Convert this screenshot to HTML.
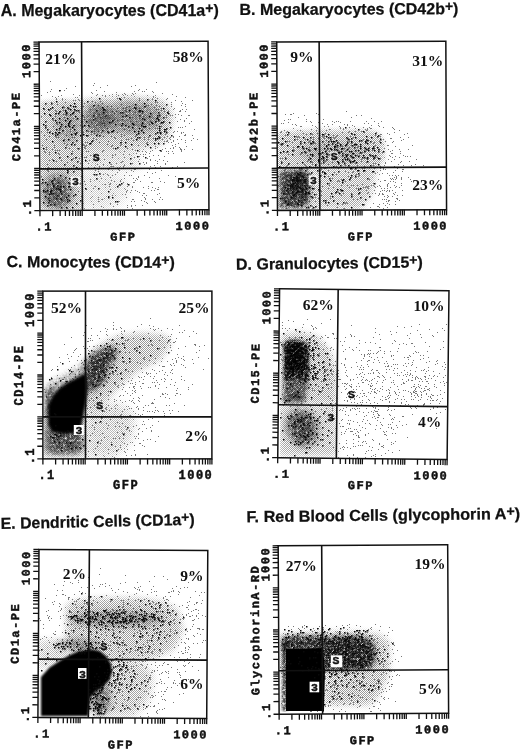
<!DOCTYPE html><html><head><meta charset="utf-8"><style>html,body{margin:0;padding:0;background:#fff;width:520px;height:750px;overflow:hidden}svg{display:block}</style></head><body>
<svg style="will-change:transform" width="520" height="750" viewBox="0 0 520 750">
<defs><pattern id="chk" width="2" height="2" patternUnits="userSpaceOnUse"><rect width="1" height="1" fill="#9a9a9a"/><rect x="1" y="1" width="1" height="1" fill="#9a9a9a"/></pattern><filter id="b1" x="-100%" y="-100%" width="300%" height="300%"><feGaussianBlur stdDeviation="1"/></filter><filter id="mb1_0" x="-100%" y="-100%" width="300%" height="300%"><feGaussianBlur stdDeviation="1" result="b"/><feTurbulence type="fractalNoise" baseFrequency="0.45" numOctaves="2" seed="4" result="t"/><feColorMatrix in="t" type="matrix" values="0 0 0 0 0 0 0 0 0 0 0 0 0 0 0 2.4 0 0 0 -0.35" result="n"/><feComposite in="b" in2="n" operator="arithmetic" k1="1"/></filter><filter id="mb1_1" x="-100%" y="-100%" width="300%" height="300%"><feGaussianBlur stdDeviation="1" result="b"/><feTurbulence type="fractalNoise" baseFrequency="0.45" numOctaves="2" seed="11" result="t"/><feColorMatrix in="t" type="matrix" values="0 0 0 0 0 0 0 0 0 0 0 0 0 0 0 2.4 0 0 0 -0.35" result="n"/><feComposite in="b" in2="n" operator="arithmetic" k1="1"/></filter><filter id="mb1_2" x="-100%" y="-100%" width="300%" height="300%"><feGaussianBlur stdDeviation="1" result="b"/><feTurbulence type="fractalNoise" baseFrequency="0.45" numOctaves="2" seed="18" result="t"/><feColorMatrix in="t" type="matrix" values="0 0 0 0 0 0 0 0 0 0 0 0 0 0 0 2.4 0 0 0 -0.35" result="n"/><feComposite in="b" in2="n" operator="arithmetic" k1="1"/></filter><filter id="b1_5" x="-100%" y="-100%" width="300%" height="300%"><feGaussianBlur stdDeviation="1.5"/></filter><filter id="mb1_5_0" x="-100%" y="-100%" width="300%" height="300%"><feGaussianBlur stdDeviation="1.5" result="b"/><feTurbulence type="fractalNoise" baseFrequency="0.45" numOctaves="2" seed="4" result="t"/><feColorMatrix in="t" type="matrix" values="0 0 0 0 0 0 0 0 0 0 0 0 0 0 0 2.4 0 0 0 -0.35" result="n"/><feComposite in="b" in2="n" operator="arithmetic" k1="1"/></filter><filter id="mb1_5_1" x="-100%" y="-100%" width="300%" height="300%"><feGaussianBlur stdDeviation="1.5" result="b"/><feTurbulence type="fractalNoise" baseFrequency="0.45" numOctaves="2" seed="11" result="t"/><feColorMatrix in="t" type="matrix" values="0 0 0 0 0 0 0 0 0 0 0 0 0 0 0 2.4 0 0 0 -0.35" result="n"/><feComposite in="b" in2="n" operator="arithmetic" k1="1"/></filter><filter id="mb1_5_2" x="-100%" y="-100%" width="300%" height="300%"><feGaussianBlur stdDeviation="1.5" result="b"/><feTurbulence type="fractalNoise" baseFrequency="0.45" numOctaves="2" seed="18" result="t"/><feColorMatrix in="t" type="matrix" values="0 0 0 0 0 0 0 0 0 0 0 0 0 0 0 2.4 0 0 0 -0.35" result="n"/><feComposite in="b" in2="n" operator="arithmetic" k1="1"/></filter><filter id="b2" x="-100%" y="-100%" width="300%" height="300%"><feGaussianBlur stdDeviation="2"/></filter><filter id="mb2_0" x="-100%" y="-100%" width="300%" height="300%"><feGaussianBlur stdDeviation="2" result="b"/><feTurbulence type="fractalNoise" baseFrequency="0.45" numOctaves="2" seed="4" result="t"/><feColorMatrix in="t" type="matrix" values="0 0 0 0 0 0 0 0 0 0 0 0 0 0 0 2.4 0 0 0 -0.35" result="n"/><feComposite in="b" in2="n" operator="arithmetic" k1="1"/></filter><filter id="mb2_1" x="-100%" y="-100%" width="300%" height="300%"><feGaussianBlur stdDeviation="2" result="b"/><feTurbulence type="fractalNoise" baseFrequency="0.45" numOctaves="2" seed="11" result="t"/><feColorMatrix in="t" type="matrix" values="0 0 0 0 0 0 0 0 0 0 0 0 0 0 0 2.4 0 0 0 -0.35" result="n"/><feComposite in="b" in2="n" operator="arithmetic" k1="1"/></filter><filter id="mb2_2" x="-100%" y="-100%" width="300%" height="300%"><feGaussianBlur stdDeviation="2" result="b"/><feTurbulence type="fractalNoise" baseFrequency="0.45" numOctaves="2" seed="18" result="t"/><feColorMatrix in="t" type="matrix" values="0 0 0 0 0 0 0 0 0 0 0 0 0 0 0 2.4 0 0 0 -0.35" result="n"/><feComposite in="b" in2="n" operator="arithmetic" k1="1"/></filter><filter id="b2_5" x="-100%" y="-100%" width="300%" height="300%"><feGaussianBlur stdDeviation="2.5"/></filter><filter id="mb2_5_0" x="-100%" y="-100%" width="300%" height="300%"><feGaussianBlur stdDeviation="2.5" result="b"/><feTurbulence type="fractalNoise" baseFrequency="0.45" numOctaves="2" seed="4" result="t"/><feColorMatrix in="t" type="matrix" values="0 0 0 0 0 0 0 0 0 0 0 0 0 0 0 2.4 0 0 0 -0.35" result="n"/><feComposite in="b" in2="n" operator="arithmetic" k1="1"/></filter><filter id="mb2_5_1" x="-100%" y="-100%" width="300%" height="300%"><feGaussianBlur stdDeviation="2.5" result="b"/><feTurbulence type="fractalNoise" baseFrequency="0.45" numOctaves="2" seed="11" result="t"/><feColorMatrix in="t" type="matrix" values="0 0 0 0 0 0 0 0 0 0 0 0 0 0 0 2.4 0 0 0 -0.35" result="n"/><feComposite in="b" in2="n" operator="arithmetic" k1="1"/></filter><filter id="mb2_5_2" x="-100%" y="-100%" width="300%" height="300%"><feGaussianBlur stdDeviation="2.5" result="b"/><feTurbulence type="fractalNoise" baseFrequency="0.45" numOctaves="2" seed="18" result="t"/><feColorMatrix in="t" type="matrix" values="0 0 0 0 0 0 0 0 0 0 0 0 0 0 0 2.4 0 0 0 -0.35" result="n"/><feComposite in="b" in2="n" operator="arithmetic" k1="1"/></filter><filter id="b3" x="-100%" y="-100%" width="300%" height="300%"><feGaussianBlur stdDeviation="3"/></filter><filter id="mb3_0" x="-100%" y="-100%" width="300%" height="300%"><feGaussianBlur stdDeviation="3" result="b"/><feTurbulence type="fractalNoise" baseFrequency="0.45" numOctaves="2" seed="4" result="t"/><feColorMatrix in="t" type="matrix" values="0 0 0 0 0 0 0 0 0 0 0 0 0 0 0 2.4 0 0 0 -0.35" result="n"/><feComposite in="b" in2="n" operator="arithmetic" k1="1"/></filter><filter id="mb3_1" x="-100%" y="-100%" width="300%" height="300%"><feGaussianBlur stdDeviation="3" result="b"/><feTurbulence type="fractalNoise" baseFrequency="0.45" numOctaves="2" seed="11" result="t"/><feColorMatrix in="t" type="matrix" values="0 0 0 0 0 0 0 0 0 0 0 0 0 0 0 2.4 0 0 0 -0.35" result="n"/><feComposite in="b" in2="n" operator="arithmetic" k1="1"/></filter><filter id="mb3_2" x="-100%" y="-100%" width="300%" height="300%"><feGaussianBlur stdDeviation="3" result="b"/><feTurbulence type="fractalNoise" baseFrequency="0.45" numOctaves="2" seed="18" result="t"/><feColorMatrix in="t" type="matrix" values="0 0 0 0 0 0 0 0 0 0 0 0 0 0 0 2.4 0 0 0 -0.35" result="n"/><feComposite in="b" in2="n" operator="arithmetic" k1="1"/></filter><filter id="b4" x="-100%" y="-100%" width="300%" height="300%"><feGaussianBlur stdDeviation="4"/></filter><filter id="mb4_0" x="-100%" y="-100%" width="300%" height="300%"><feGaussianBlur stdDeviation="4" result="b"/><feTurbulence type="fractalNoise" baseFrequency="0.45" numOctaves="2" seed="4" result="t"/><feColorMatrix in="t" type="matrix" values="0 0 0 0 0 0 0 0 0 0 0 0 0 0 0 2.4 0 0 0 -0.35" result="n"/><feComposite in="b" in2="n" operator="arithmetic" k1="1"/></filter><filter id="mb4_1" x="-100%" y="-100%" width="300%" height="300%"><feGaussianBlur stdDeviation="4" result="b"/><feTurbulence type="fractalNoise" baseFrequency="0.45" numOctaves="2" seed="11" result="t"/><feColorMatrix in="t" type="matrix" values="0 0 0 0 0 0 0 0 0 0 0 0 0 0 0 2.4 0 0 0 -0.35" result="n"/><feComposite in="b" in2="n" operator="arithmetic" k1="1"/></filter><filter id="mb4_2" x="-100%" y="-100%" width="300%" height="300%"><feGaussianBlur stdDeviation="4" result="b"/><feTurbulence type="fractalNoise" baseFrequency="0.45" numOctaves="2" seed="18" result="t"/><feColorMatrix in="t" type="matrix" values="0 0 0 0 0 0 0 0 0 0 0 0 0 0 0 2.4 0 0 0 -0.35" result="n"/><feComposite in="b" in2="n" operator="arithmetic" k1="1"/></filter><filter id="b5" x="-100%" y="-100%" width="300%" height="300%"><feGaussianBlur stdDeviation="5"/></filter><filter id="mb5_0" x="-100%" y="-100%" width="300%" height="300%"><feGaussianBlur stdDeviation="5" result="b"/><feTurbulence type="fractalNoise" baseFrequency="0.45" numOctaves="2" seed="4" result="t"/><feColorMatrix in="t" type="matrix" values="0 0 0 0 0 0 0 0 0 0 0 0 0 0 0 2.4 0 0 0 -0.35" result="n"/><feComposite in="b" in2="n" operator="arithmetic" k1="1"/></filter><filter id="mb5_1" x="-100%" y="-100%" width="300%" height="300%"><feGaussianBlur stdDeviation="5" result="b"/><feTurbulence type="fractalNoise" baseFrequency="0.45" numOctaves="2" seed="11" result="t"/><feColorMatrix in="t" type="matrix" values="0 0 0 0 0 0 0 0 0 0 0 0 0 0 0 2.4 0 0 0 -0.35" result="n"/><feComposite in="b" in2="n" operator="arithmetic" k1="1"/></filter><filter id="mb5_2" x="-100%" y="-100%" width="300%" height="300%"><feGaussianBlur stdDeviation="5" result="b"/><feTurbulence type="fractalNoise" baseFrequency="0.45" numOctaves="2" seed="18" result="t"/><feColorMatrix in="t" type="matrix" values="0 0 0 0 0 0 0 0 0 0 0 0 0 0 0 2.4 0 0 0 -0.35" result="n"/><feComposite in="b" in2="n" operator="arithmetic" k1="1"/></filter><filter id="b6" x="-100%" y="-100%" width="300%" height="300%"><feGaussianBlur stdDeviation="6"/></filter><filter id="mb6_0" x="-100%" y="-100%" width="300%" height="300%"><feGaussianBlur stdDeviation="6" result="b"/><feTurbulence type="fractalNoise" baseFrequency="0.45" numOctaves="2" seed="4" result="t"/><feColorMatrix in="t" type="matrix" values="0 0 0 0 0 0 0 0 0 0 0 0 0 0 0 2.4 0 0 0 -0.35" result="n"/><feComposite in="b" in2="n" operator="arithmetic" k1="1"/></filter><filter id="mb6_1" x="-100%" y="-100%" width="300%" height="300%"><feGaussianBlur stdDeviation="6" result="b"/><feTurbulence type="fractalNoise" baseFrequency="0.45" numOctaves="2" seed="11" result="t"/><feColorMatrix in="t" type="matrix" values="0 0 0 0 0 0 0 0 0 0 0 0 0 0 0 2.4 0 0 0 -0.35" result="n"/><feComposite in="b" in2="n" operator="arithmetic" k1="1"/></filter><filter id="mb6_2" x="-100%" y="-100%" width="300%" height="300%"><feGaussianBlur stdDeviation="6" result="b"/><feTurbulence type="fractalNoise" baseFrequency="0.45" numOctaves="2" seed="18" result="t"/><feColorMatrix in="t" type="matrix" values="0 0 0 0 0 0 0 0 0 0 0 0 0 0 0 2.4 0 0 0 -0.35" result="n"/><feComposite in="b" in2="n" operator="arithmetic" k1="1"/></filter><filter id="b8" x="-100%" y="-100%" width="300%" height="300%"><feGaussianBlur stdDeviation="8"/></filter><filter id="mb8_0" x="-100%" y="-100%" width="300%" height="300%"><feGaussianBlur stdDeviation="8" result="b"/><feTurbulence type="fractalNoise" baseFrequency="0.45" numOctaves="2" seed="4" result="t"/><feColorMatrix in="t" type="matrix" values="0 0 0 0 0 0 0 0 0 0 0 0 0 0 0 2.4 0 0 0 -0.35" result="n"/><feComposite in="b" in2="n" operator="arithmetic" k1="1"/></filter><filter id="mb8_1" x="-100%" y="-100%" width="300%" height="300%"><feGaussianBlur stdDeviation="8" result="b"/><feTurbulence type="fractalNoise" baseFrequency="0.45" numOctaves="2" seed="11" result="t"/><feColorMatrix in="t" type="matrix" values="0 0 0 0 0 0 0 0 0 0 0 0 0 0 0 2.4 0 0 0 -0.35" result="n"/><feComposite in="b" in2="n" operator="arithmetic" k1="1"/></filter><filter id="mb8_2" x="-100%" y="-100%" width="300%" height="300%"><feGaussianBlur stdDeviation="8" result="b"/><feTurbulence type="fractalNoise" baseFrequency="0.45" numOctaves="2" seed="18" result="t"/><feColorMatrix in="t" type="matrix" values="0 0 0 0 0 0 0 0 0 0 0 0 0 0 0 2.4 0 0 0 -0.35" result="n"/><feComposite in="b" in2="n" operator="arithmetic" k1="1"/></filter><filter id="b10" x="-100%" y="-100%" width="300%" height="300%"><feGaussianBlur stdDeviation="10"/></filter><filter id="mb10_0" x="-100%" y="-100%" width="300%" height="300%"><feGaussianBlur stdDeviation="10" result="b"/><feTurbulence type="fractalNoise" baseFrequency="0.45" numOctaves="2" seed="4" result="t"/><feColorMatrix in="t" type="matrix" values="0 0 0 0 0 0 0 0 0 0 0 0 0 0 0 2.4 0 0 0 -0.35" result="n"/><feComposite in="b" in2="n" operator="arithmetic" k1="1"/></filter><filter id="mb10_1" x="-100%" y="-100%" width="300%" height="300%"><feGaussianBlur stdDeviation="10" result="b"/><feTurbulence type="fractalNoise" baseFrequency="0.45" numOctaves="2" seed="11" result="t"/><feColorMatrix in="t" type="matrix" values="0 0 0 0 0 0 0 0 0 0 0 0 0 0 0 2.4 0 0 0 -0.35" result="n"/><feComposite in="b" in2="n" operator="arithmetic" k1="1"/></filter><filter id="mb10_2" x="-100%" y="-100%" width="300%" height="300%"><feGaussianBlur stdDeviation="10" result="b"/><feTurbulence type="fractalNoise" baseFrequency="0.45" numOctaves="2" seed="18" result="t"/><feColorMatrix in="t" type="matrix" values="0 0 0 0 0 0 0 0 0 0 0 0 0 0 0 2.4 0 0 0 -0.35" result="n"/><feComposite in="b" in2="n" operator="arithmetic" k1="1"/></filter><filter id="b12" x="-100%" y="-100%" width="300%" height="300%"><feGaussianBlur stdDeviation="12"/></filter><filter id="mb12_0" x="-100%" y="-100%" width="300%" height="300%"><feGaussianBlur stdDeviation="12" result="b"/><feTurbulence type="fractalNoise" baseFrequency="0.45" numOctaves="2" seed="4" result="t"/><feColorMatrix in="t" type="matrix" values="0 0 0 0 0 0 0 0 0 0 0 0 0 0 0 2.4 0 0 0 -0.35" result="n"/><feComposite in="b" in2="n" operator="arithmetic" k1="1"/></filter><filter id="mb12_1" x="-100%" y="-100%" width="300%" height="300%"><feGaussianBlur stdDeviation="12" result="b"/><feTurbulence type="fractalNoise" baseFrequency="0.45" numOctaves="2" seed="11" result="t"/><feColorMatrix in="t" type="matrix" values="0 0 0 0 0 0 0 0 0 0 0 0 0 0 0 2.4 0 0 0 -0.35" result="n"/><feComposite in="b" in2="n" operator="arithmetic" k1="1"/></filter><filter id="mb12_2" x="-100%" y="-100%" width="300%" height="300%"><feGaussianBlur stdDeviation="12" result="b"/><feTurbulence type="fractalNoise" baseFrequency="0.45" numOctaves="2" seed="18" result="t"/><feColorMatrix in="t" type="matrix" values="0 0 0 0 0 0 0 0 0 0 0 0 0 0 0 2.4 0 0 0 -0.35" result="n"/><feComposite in="b" in2="n" operator="arithmetic" k1="1"/></filter></defs>
<rect width="520" height="750" fill="#fff"/>
<g transform="translate(40 42)"><clipPath id="cpA"><rect x="1" y="1" width="167" height="166"/></clipPath><g clip-path="url(#cpA)"><path d="M10 39.5h1m105 1h1m-63 1h1m-2 2h1m13 0h1m27 0h1m-61 1h1m55 0h1m-32 1h1m-35 1h1m-16 1h1m87 0h1m6 0h1m-87 1h1m3 0h1m31 0h1m41 0h1m-89 1h1m53 0h1m29 0h1m7 0h1m1 0h1m7 0h1m-106 1h1m43 0h1m24 0h1m36 0h1m-62 1h1m31 0h1m7 0h1m2 0h1m26 0h1m-90 1h1m23 0h1m14 0h1m3 0h1m5 0h1m2 0h1m7 0h1m38 0h1m-132 1h1m19 0h1m17 0h1m16 0h1m5 0h1m2 0h1m3 0h1m8 0h1m4 0h1m3 0h1m3 0h1m15 0h1m7 0h1m-104 1h1m5 0h1m46 0h1m6 0h1m3 0h1m17 0h1m18 0h1m22 0h1m-122 1h1m19 0h1m1 0h1m13 0h1m29 0h1m2 0h1m28 0h1m1 0h1m29 0h1m-130 1h1m5 0h1m18 0h1m35 0h1m2 0h1m7 0h1m10 0h1m12 0h1m4 0h1m9 0h1m-112 1h1m5 0h1m2 0h1m12 0h1m20 0h1m39 0h1m12 0h1m13 0h1m-105 1h1m10 0h1m1 0h1m3 0h1m1 0h2m23 0h1m3 0h1m28 0h1m16 0h1m18 0h1m16 0h1m-137 1h1m34 0h2m7 0h1m38 0h1m41 0h1m-131 1h1m2 0h1m10 0h1m29 0h1m10 0h1m15 0h1m23 0h1m8 0h1m1 0h1m4 0h1m8 0h1m-99 1h1m10 0h1m4 0h1m12 0h1m26 0h1m52 0h1m-131 1h1m4 0h1m20 0h1m42 0h1m10 0h1m7 0h1m10 0h1m4 0h1m14 0h1m13 0h1m-115 1h1m15 0h1m1 0h1m4 0h1m3 0h1m32 0h1m11 0h1m2 0h1m1 0h1m7 0h1m24 0h1m-119 1h1m4 0h1m4 0h1m1 0h1m6 0h2m23 0h2m1 0h2m17 0h2m14 0h2m12 0h1m2 0h1m8 0h1m13 0h1m-123 1h2m12 0h1m21 0h1m13 0h1m12 0h1m9 0h1m17 0h1m-87 1h1m12 0h1m21 0h1m13 0h2m4 0h1m1 0h1m6 0h2m1 0h1m2 0h2m21 0h1m12 0h1m-131 1h1m10 0h1m5 0h1m28 0h1m13 0h1m21 0h2m9 0h1m18 0h1m1 0h1m14 0h1m8 0h1m3 0h1m-139 1h2m5 0h1m7 0h1m11 0h1m12 0h1m14 0h1m1 0h1m19 0h1m12 0h1m13 0h1m8 0h1m6 0h1m11 0h1m-125 1h1m3 0h1m13 0h1m37 0h1m3 0h1m9 0h1m11 0h1m16 0h1m8 0h1m3 0h1m10 0h2m4 0h1m-127 1h1m16 0h1m1 0h2m28 0h1m23 0h1m2 0h1m10 0h1m9 0h1m-104 1h1m2 0h1m32 0h1m1 0h1m3 0h1m18 0h2m1 0h1m24 0h1m24 0h1m-112 1h1m5 0h2m1 0h1m20 0h1m5 0h1m3 0h1m2 0h1m22 0h1m2 0h1m7 0h1m18 0h1m6 0h1m15 0h1m2 0h1m-139 1h1m25 0h1m39 0h1m6 0h1m13 0h1m7 0h1m17 0h1m3 0h1m8 0h1m3 0h1m1 0h1m8 0h1m6 0h2m-135 1h1m10 0h1m31 0h1m6 0h1m6 0h1m3 0h1m3 0h1m4 0h1m2 0h1m14 0h1m-83 1h1m2 0h1m19 0h1m15 0h1m22 0h1m5 0h1m2 0h1m28 0h1m4 0h2m7 0h1m-136 1h1m17 0h1m14 0h1m21 0h1m12 0h1m30 0h1m17 0h1m28 0h1m-132 1h1m9 0h1m9 0h2m6 0h2m4 0h1m1 0h1m22 0h1m6 0h2m57 0h1m-128 1h1m49 0h1m9 0h1m3 0h1m28 0h1m7 0h1m11 0h1m17 0h1m-108 1h1m23 0h1m1 0h1m8 0h1m17 0h1m5 0h1m13 0h1m5 0h2m5 0h1m13 0h1m6 0h1m6 0h1m-101 1h1m16 0h1m2 0h1m14 0h1m5 0h1m22 0h1m8 0h1m-124 1h1m25 0h1m17 0h1m11 0h1m4 0h1m1 0h1m55 0h1m4 0h1m23 0h1m-133 1h1m3 0h1m2 0h1m50 0h1m25 0h1m7 0h1m2 0h1m1 0h1m-82 1h2m5 0h1m15 0h1m7 0h1m24 0h1m26 0h1m4 0h1m-109 1h1m12 0h1m22 0h1m8 0h1m29 0h1m17 0h1m3 0h1m10 0h1m23 0h1m-63 1h1m15 0h1m5 0h1m32 0h1m1 0h1m1 0h1m-125 1h2m18 0h1m28 0h1m41 0h1m2 0h1m2 0h1m1 0h1m2 0h1m3 0h1m-116 1h1m20 0h2m3 0h1m18 0h1m29 0h1m16 0h2m26 0h1m24 0h1m-143 1h1m5 0h2m3 0h1m6 0h1m31 0h1m26 0h1m11 0h1m12 0h1m-106 1h2m18 0h2m4 0h1m7 0h1m4 0h1m5 0h1m3 0h1m39 0h1m27 0h1m7 0h1m2 0h1m-131 1h1m35 0h1m17 0h1m15 0h1m41 0h1m13 0h1m7 0h1m1 0h1m-128 1h1m17 0h1m10 0h1m8 0h1m4 0h1m5 0h1m15 0h1m27 0h1m1 0h1m29 0h1m-127 1h1m4 0h1m3 0h1m9 0h1m3 0h1m12 0h1m5 0h1m12 0h1m1 0h1m8 0h1m43 0h1m19 0h1m-142 1h1m18 0h1m2 0h1m18 0h1m17 0h1m3 0h1m16 0h1m59 0h2m6 0h1m-144 1h2m27 0h1m19 0h1m4 0h1m7 0h1m4 0h1m4 0h1m13 0h1m10 0h1m9 0h1m10 0h1m5 0h1m5 0h1m-124 1h1m1 0h1m13 0h1m1 0h1m39 0h1m29 0h1m3 0h1m6 0h1m8 0h1m5 0h1m2 0h1m-126 1h1m7 0h1m5 0h1m9 0h1m20 0h1m21 0h1m15 0h1m21 0h1m5 0h1m6 0h1m2 0h1m23 0h1m-154 1h1m5 0h1m17 0h1m3 0h1m27 0h1m29 0h1m1 0h1m15 0h2m2 0h1m13 0h1m7 0h1m6 0h1m3 0h1m15 0h1m-77 1h1m11 0h1m21 0h1m11 0h1m5 0h1m11 0h1m5 0h1m-129 1h1m23 0h1m17 0h1m2 0h1m6 0h1m48 0h1m1 0h2m5 0h1m-132 1h1m15 0h1m11 0h1m14 0h1m1 0h1m11 0h1m21 0h1m8 0h1m16 0h1m10 0h1m9 0h1m2 0h1m13 0h1m-122 1h1m22 0h1m58 0h1m7 0h1m23 0h1m-127 1h1m5 0h1m8 0h1m39 0h1m4 0h1m8 0h1m26 0h1m26 0h1m-134 1h1m8 0h1m2 0h1m4 0h1m6 0h1m6 0h1m8 0h1m1 0h1m1 0h1m6 0h1m5 0h1m1 0h1m10 0h1m7 0h1m17 0h1m33 0h1m-88 1h1m22 0h1m2 0h1m12 0h1m1 0h1m18 0h1m9 0h1m19 0h1m10 0h1m-146 1h1m4 0h1m7 0h1m26 0h1m2 0h1m4 0h1m67 0h1m15 0h1m5 0h1m-111 1h1m7 0h1m6 0h2m27 0h1m13 0h1m27 0h1m9 0h1m4 0h1m2 0h1m6 0h1m-141 1h1m5 0h2m1 0h1m2 0h1m79 0h1m6 0h1m3 0h1m18 0h1m17 0h2m2 0h1m7 0h1m-138 1h3m1 0h1m16 0h1m26 0h2m30 0h1m16 0h1m6 0h1m21 0h1m-138 1h1m8 0h1m18 0h1m13 0h1m1 0h1m13 0h1m16 0h1m4 0h1m14 0h1m2 0h1m2 0h1m4 0h1m10 0h1m4 0h1m1 0h1m3 0h1m8 0h1m-137 1h1m3 0h1m10 0h1m15 0h1m25 0h1m17 0h1m25 0h1m-104 1h1m14 0h1m20 0h1m13 0h1m39 0h1m2 0h1m12 0h1m18 0h1m4 0h1m-125 1h1m9 0h1m21 0h1m30 0h1m2 0h1m7 0h1m5 0h1m10 0h1m2 0h1m1 0h1m-81 1h1m21 0h1m2 0h2m3 0h1m7 0h1m3 0h1m4 0h2m1 0h1m15 0h1m21 0h1m4 0h1m-103 1h1m3 0h1m20 0h1m4 0h1m11 0h1m39 0h2m3 0h1m5 0h1m14 0h1m-89 1h1m7 0h3m11 0h1m13 0h1m11 0h1m9 0h1m-62 1h1m5 0h1m17 0h1m20 0h1m28 0h1m-96 1h1m32 0h1m18 0h1m34 0h1m10 0h1m8 0h1m-111 1h1m2 0h1m8 0h1m20 0h1m6 0h1m10 0h1m49 0h1m4 0h1m7 0h1m-108 1h1m24 0h1m5 0h1m34 0h2m14 0h1m18 0h1m9 0h1m-101 1h1m2 0h1m21 0h1m7 0h1m8 0h1m10 0h2m21 0h1m2 0h1m37 0h1m-120 1h1m7 0h1m1 0h1m1 0h1m2 0h1m7 0h1m6 0h1m20 0h1m15 0h1m13 0h1m10 0h1m7 0h1m-124 1h1m4 0h1m4 0h1m9 0h1m34 0h1m5 0h1m6 0h2m12 0h1m19 0h1m20 0h1m-89 1h1m13 0h1m3 0h1m7 0h1m3 0h1m16 0h1m29 0h1m-56 1h1m10 0h4m6 0h1m2 0h1m26 0h1m9 0h1m16 0h1m-131 1h2m39 0h1m5 0h1m4 0h1m9 0h1m7 0h1m1 0h1m3 0h1m31 0h1m16 0h1m-119 1h1m67 0h1m3 0h1m18 0h1m-91 1h1m5 0h1m9 0h1m6 0h1m19 0h1m9 0h1m9 0h1m15 0h2m13 0h1m-69 1h1m13 0h1m16 0h1m6 0h1m11 0h1m29 0h1m-121 1h1m6 0h1m19 0h1m29 0h1m34 0h1m-40 1h1m22 0h1m8 0h1m20 0h1m7 0h1m-51 1h1m46 0h1m-60 1h1m6 0h1m2 0h1m3 0h1m7 0h1m-8 1h1m3 0h1m11 0h1m4 0h1m1 0h1m12 0h1m23 0h1m-109 1h1m20 0h1m18 0h1m37 0h1m36 0h1m-66 1h1m27 0h1m10 0h1m-49 1h1m22 0h1m8 0h1m2 0h1m22 0h1m-70 1h1m6 0h1m7 0h1m15 0h1m15 0h1m-62 1h1m17 0h1m16 0h1m8 0h1m14 0h1m-54 1h1m1 0h1m5 0h1m8 0h1m14 0h1m5 0h1m19 0h1m19 0h1m-53 1h1m14 0h1m9 0h2m16 0h2m11 0h1m-55 1h1m16 0h1m-43 1h1m16 0h1m1 0h2m3 0h2m5 0h1m10 0h1m-37 1h1m26 0h1m1 0h1m-27 1h2m13 0h1m17 0h1m4 0h1m15 0h1m-44 1h1m9 0h1m16 0h1m10 0h1m8 0h1m5 0h1m-66 1h1m4 0h1m25 0h1m23 0h1m6 0h1m-70 1h1m23 0h1m14 0h1m31 0h2m-32 1h1m3 0h1m3 0h1m15 0h1m2 0h1m-77 1h1m12 0h1m34 0h1m10 0h1m-12 1h1m3 0h1m8 0h1m-39 1h1m11 0h1m29 0h2m14 0h1m-38 1h1m2 0h1m31 0h1m-46 1h1m2 0h1m26 0h1m3 0h1m-66 1h1m10 0h1m13 0h1m-16 1h1m6 0h1m27 0h1m17 0h1m15 0h1m-71 1h1m13 0h1m40 0h1m-48 1h1m2 0h2m29 0h2m11 0h1m6 0h1m6 0h1m2 0h1m-95 1h1m72 0h1m-51 1h1m6 0h2m19 0h1m11 0h1m2 0h1m9 0h1m9 0h1m-9 1h1m8 0h1m-73 1h1m26 0h1m36 0h1m-55 1h1m16 0h1m6 0h1m9 1h1m3 0h1m3 0h1m6 0h1m-42 1h1m11 0h1m17 0h1m-39 1h1m9 0h1m23 0h1m-61 1h1m16 0h1m47 0h1m-14 1h1m22 0h1m26 0h1" stroke="#777" stroke-width="1" fill="none"/><mask id="mkA" maskUnits="userSpaceOnUse" x="0" y="0" width="169" height="168"><g filter="url(#b2)"><polygon points="0,60 20,58 42,58 42,168 0,168" fill="#fff" fill-opacity="1"/></g><g filter="url(#b3)"><polygon points="42,58 80,55 110,56 122,58 130,65 133,78 129,95 120,103 100,107 70,109 42,111" fill="#fff" fill-opacity="1"/></g><g filter="url(#b5)"><polygon points="42,105 95,106 100,127 42,127" fill="#fff" fill-opacity="0.6"/></g><g filter="url(#b6)"><ellipse cx="58" cy="148" rx="30" ry="20" fill="#fff" fill-opacity="0.5"/></g></mask><rect width="169" height="168" fill="url(#chk)" mask="url(#mkA)"/><g filter="url(#mb4_0)"><ellipse cx="58" cy="77" rx="14" ry="15" fill="#000" fill-opacity="0.5"/></g><g filter="url(#mb5_1)"><ellipse cx="92" cy="76" rx="30" ry="15" fill="#000" fill-opacity="0.38"/></g><g filter="url(#mb4_2)"><ellipse cx="28" cy="84" rx="13" ry="17" fill="#000" fill-opacity="0.25"/></g><g filter="url(#mb4_0)"><ellipse cx="17" cy="150" rx="14" ry="17" fill="#000" fill-opacity="0.6"/></g><path d="M19 48.75h1.5m38.5 8h1.5m18.5 0h1.5m-0.5 1h1.5m25.5 0h1.5m6.5 1h1.5m-100.5 1h1.5m29.5 0h1.5m-43.5 2h1.5m4.5 0h1.5m21.5 0h1.5m68.5 0h1.5m-10.5 1h1.5m29.5 0h1.5m-97.5 1h1.5m21.5 0h1.5m-21.5 1h1.5m0.5 0h1.5m67.5 0h1.5m-93.5 1h1.5m8.5 0h1.5m3.5 0h1.5m33.5 0h1.5m30.5 0h1.5m-92.5 1h1.5m5.5 0h1.5m16.5 0h1.5m65.5 0h1.5m26.5 0h1.5m-116.5 1h1.5m20.5 0h1.5m2.5 0h1.5m27.5 0h2.5m-40.5 1h1.5m9.5 0h1.5m0.5 0h1.5m16.5 0h1.5m31.5 0h1.5m8.5 0h2.5m-82.5 1h1.5m4.5 0h1.5m72.5 0h1.5m1.5 0h1.5m-77.5 1h1.5m5.5 0h1.5m28.5 0h1.5m15.5 0h1.5m0.5 0h1.5m34.5 0h1.5m7.5 0h1.5m-124.5 1h1.5m9.5 0h1.5m1.5 0h1.5m6.5 0h1.5m4.5 0h1.5m76.5 0h1.5m16.5 0h1.5m-120.5 1h1.5m19.5 0h1.5m-21.5 1h1.5m30.5 0h1.5m9.5 0h1.5m31.5 0h1.5m11.5 0h1.5m16.5 0h1.5m0.5 0h1.5m-120.5 1h1.5m33.5 0h1.5m45.5 0h1.5m25.5 0h1.5m-21.5 1h1.5m26.5 0h1.5m4.5 0h1.5m-112.5 1h1.5m5.5 0h1.5m6.5 0h1.5m8.5 0h1.5m63.5 0h1.5m12.5 0h1.5m-64.5 1h1.5m49.5 0h1.5m12.5 0h1.5m-104.5 1h1.5m8.5 0h1.5m3.5 0h1.5m40.5 0h1.5m44.5 0h1.5m-114.5 1h1.5m22.5 0h1.5m10.5 0h1.5m3.5 0h1.5m67.5 0h1.5m6.5 0h1.5m-108.5 1h1.5m1.5 0h1.5m8.5 0h1.5m38.5 0h1.5m31.5 0h1.5m7.5 0h1.5m8.5 0h2.5m5.5 0h1.5m-102.5 1h1.5m52.5 0h1.5m8.5 0h1.5m8.5 0h1.5m8.5 0h1.5m-110.5 1h1.5m16.5 0h1.5m5.5 0h1.5m45.5 0h1.5m16.5 0h1.5m-89.5 1h1.5m21.5 0h1.5m3.5 0h1.5m9.5 0h1.5m2.5 0h1.5m31.5 0h1.5m2.5 0h1.5m14.5 0h1.5m-82.5 1h1.5m3.5 0h1.5m2.5 0h1.5m11.5 0h1.5m44.5 0h1.5m13.5 0h3.5m12.5 0h1.5m-115.5 1h1.5m25.5 0h1.5m58.5 0h1.5m36.5 0h1.5m-112.5 1h1.5m78.5 0h1.5m18.5 0h1.5m5.5 0h1.5m-120.5 1h1.5m7.5 0h1.5m16.5 0h1.5m88.5 0h2.5m-104.5 1h1.5m22.5 0h1.5m14.5 0h1.5m9.5 0h1.5m26.5 0h1.5m16.5 0h1.5m-120.5 1h1.5m49.5 0h1.5m14.5 0h1.5m2.5 0h2.5m20.5 0h1.5m2.5 0h1.5m24.5 0h1.5m-116.5 1h1.5m4.5 0h1.5m1.5 0h2.5m15.5 0h1.5m30.5 0h1.5m33.5 0h1.5m12.5 0h1.5m1.5 0h1.5m4.5 0h1.5m-115.5 1h1.5m21.5 0h1.5m61.5 0h1.5m15.5 0h1.5m3.5 0h1.5m-104.5 1h1.5m12.5 0h1.5m2.5 0h1.5m6.5 0h1.5m51.5 0h1.5m-82.5 1h1.5m23.5 0h1.5m4.5 0h2.5m7.5 0h1.5m1.5 0h1.5m48.5 0h1.5m20.5 0h1.5m-14.5 1h1.5m-22.5 1h1.5m0.5 0h1.5m18.5 0h1.5m-5.5 1h1.5m0.5 0h1.5m-90.5 1h1.5m66.5 0h1.5m17.5 0h1.5m-93.5 1h1.5m11.5 0h1.5m14.5 0h1.5m-41.5 1h1.5m37.5 0h1.5m-20.5 1h1.5m46.5 0h1.5m3.5 0h1.5m-37.5 1h2.5m62.5 0h1.5m2.5 0h1.5m3.5 0h1.5m-93.5 1h1.5m1.5 0h1.5m6.5 0h1.5m47.5 0h1.5m14.5 0h1.5m-23.5 2h1.5m-61.5 1h1.5m50.5 0h1.5m31.5 0h1.5m-108.5 1h1.5m33.5 0h1.5m35.5 0h1.5m20.5 2h1.5m21.5 0h1.5m-106.5 2h1.5m14.5 1h1.5m-5.5 3h1.5m68.5 0h1.5m-79.5 1h1.5m14.5 0h1.5m68.5 0h1.5m-16.5 1h1.5m-60.5 1h1.5m-19.5 1h1.5m30.5 0h1.5m-9.5 1h1.5m30.5 1h1.5m19.5 1h1.5m7.5 0h1.5m-76.5 1h1.5m7.5 1h1.5m1.5 2h1.5m-9.5 1h1.5m-22.5 1h1.5m18.5 1h1.5m4.5 1h1.5m-7.5 1h1.5m30.5 1h1.5m-6.5 1h1.5m0.5 0h1.5m-37.5 1h1.5m-21.5 1h1.5m23.5 1h1.5m-12.5 1h1.5m13.5 0h1.5m25.5 0h1.5m-55.5 1h1.5m8.5 1h1.5m-2.5 1h1.5m-10.5 1h1.5m1.5 0h1.5m11.5 0h1.5m8.5 0h1.5m3.5 0h1.5m-34.5 1h1.5m10.5 0h1.5m15.5 0h1.5m2.5 0h1.5m4.5 0h1.5m40.5 0h1.5m-75.5 1h1.5m70.5 0h1.5m7.5 0h1.5m-76.5 1h1.5m2.5 0h1.5m-5.5 1h1.5m5.5 0h1.5m1.5 0h1.5m3.5 0h2.5m46.5 0h1.5m-62.5 2h1.5m0.5 0h1.5m25.5 0h1.5m11.5 0h1.5m-40.5 1h2.5m8.5 0h1.5m-28.5 1h1.5m2.5 0h1.5m2.5 0h1.5m-9.5 1h1.5m0.5 0h1.5m3.5 0h1.5m8.5 0h1.5m46.5 0h1.5m-59.5 1h1.5m-0.5 1h1.5m0.5 0h1.5m6.5 0h1.5m-13.5 1h1.5m24.5 0h1.5m-19.5 1h1.5m9.5 0h1.5m3.5 0h1.5m-29.5 1h1.5m61.5 0h1.5m-43.5 1h1.5m40.5 0h1.5m2.5 0h1.5m-65.5 1h1.5m6.5 0h1.5m2.5 0h1.5m-0.5 1h1.5m4.5 0h1.5m-19.5 1h1.5m18.5 0h1.5m9.5 0h1.5m-14.5 1h1.5m46.5 0h1.5m0.5 0h1.5m-75.5 1h1.5m3.5 0h1.5m26.5 1h1.5m-27.5 1h1.5m2.5 0h1.5m-8.5 1h1.5m12.5 2h1.5m3.5 0h1.5m4.5 0h1.5m-10.5 2h1.5m7.5 0h1.5m1.5 0h1.5" stroke="#0a0a0a" stroke-width="1.5" fill="none"/></g></g>
<g transform="translate(277 42)"><clipPath id="cpB"><rect x="1" y="1" width="167" height="166"/></clipPath><g clip-path="url(#cpB)"><path d="M69 69.5h1m-54 2h1m22 0h1m-32 1h1m4 0h2m26 0h1m-15 1h1m51 0h1m4 0h1m-64 2h1m20 0h1m31 0h1m19 1h1m-84 1h1m1 0h1m15 0h1m16 0h1m-40 1h1m21 1h1m3 0h1m21 0h1m3 0h1m1 0h1m11 0h1m15 0h1m7 0h1m6 0h1m-94 1h1m22 0h1m6 0h1m15 0h1m5 0h1m-60 1h1m1 0h1m38 0h1m41 0h1m3 0h1m9 0h1m-87 1h1m2 0h1m23 0h1m7 0h1m4 0h1m11 0h1m2 0h1m-52 1h1m15 0h1m34 0h1m4 0h1m18 0h1m6 0h1m-79 1h2m13 0h1m8 0h1m3 0h1m10 0h1m14 0h1m24 0h1m-64 1h1m23 0h1m8 0h1m13 0h1m5 0h1m13 0h1m8 0h1m-100 1h1m23 0h1m22 0h1m2 0h1m11 0h1m11 0h1m2 0h2m21 0h1m-83 1h1m17 0h2m12 0h1m21 0h1m1 0h1m26 0h1m-111 1h1m12 0h1m2 0h1m15 0h1m9 0h1m39 0h2m31 0h1m-119 1h1m5 0h1m14 0h1m13 0h1m5 0h1m26 0h1m4 0h2m5 0h2m-83 1h2m4 0h1m26 0h1m28 0h1m5 0h1m15 0h1m11 0h1m17 0h1m-118 1h1m24 0h2m6 0h1m6 0h1m7 0h1m30 0h1m5 0h1m24 0h1m19 0h1m-123 1h1m11 0h1m8 0h1m5 0h1m39 0h1m10 0h1m9 0h1m6 0h2m7 0h1m14 0h1m-120 1h1m4 0h1m3 0h1m11 0h1m26 0h1m3 0h1m16 0h1m20 0h1m-80 1h1m1 0h1m2 0h1m20 0h3m11 0h1m13 0h1m14 0h1m14 0h1m-84 1h3m13 0h1m6 0h1m2 0h1m9 0h1m1 0h1m16 0h2m46 0h1m7 0h1m-127 1h1m20 0h1m14 0h1m5 0h1m9 0h1m2 0h1m42 0h1m9 0h2m-110 1h1m3 0h1m10 0h1m4 0h1m2 0h2m6 0h1m30 0h1m4 0h1m13 0h1m19 0h1m19 0h1m-97 1h1m2 0h1m15 0h1m39 0h1m1 0h1m10 0h1m21 0h1m-115 1h1m1 0h1m8 0h1m10 0h1m3 0h1m17 0h3m13 0h1m1 0h1m9 0h2m18 0h1m5 0h1m7 0h1m-102 1h1m6 0h1m8 0h1m1 0h1m16 0h1m7 0h1m11 0h1m13 0h1m4 0h1m4 0h1m2 0h1m17 0h1m-112 1h1m32 0h2m2 0h2m17 0h1m1 0h1m7 0h2m6 0h1m10 0h1m5 0h2m-94 1h1m43 0h1m7 0h2m6 0h1m42 0h1m-34 1h2m23 0h2m10 0h2m23 0h1m-115 1h1m43 0h1m15 0h1m36 0h1m-110 1h1m6 0h1m3 0h1m11 0h1m8 0h1m18 0h1m11 0h2m6 0h2m9 0h2m3 0h1m-93 1h1m21 0h1m11 0h2m27 0h1m3 0h1m25 0h1m9 0h1m-92 1h1m22 0h1m24 0h1m2 0h1m7 0h1m1 0h1m5 0h1m1 0h1m4 0h1m11 0h1m8 0h1m10 0h1m8 0h1m-115 1h1m31 0h1m19 0h1m10 0h1m6 0h1m2 0h1m1 0h1m2 0h1m8 0h1m10 0h1m-107 1h1m6 0h1m35 0h1m6 0h1m2 0h1m5 0h1m14 0h1m4 0h1m24 0h1m9 0h1m-121 1h1m5 0h2m19 0h1m33 0h1m1 0h1m16 0h1m1 0h1m19 0h1m-65 1h1m20 0h1m16 0h1m2 0h1m1 0h2m17 0h1m1 0h1m8 0h2m7 0h1m-113 1h1m10 0h2m24 0h3m5 0h1m-57 1h1m6 0h1m22 0h1m16 0h1m32 0h1m1 0h1m29 0h1m13 0h1m-101 1h1m8 0h1m19 0h1m4 0h1m11 0h1m3 0h1m9 0h1m26 0h1m4 0h1m9 0h1m1 0h1m2 0h1m-126 1h1m23 0h1m13 0h1m3 0h2m31 0h1m6 0h2m8 0h1m6 0h1m7 0h1m6 0h1m-120 1h1m1 0h1m4 0h1m11 0h1m17 0h1m45 0h1m2 0h2m9 0h1m-96 1h1m1 0h1m31 0h1m7 0h1m8 0h1m8 0h1m3 0h1m1 0h2m8 0h1m2 0h1m5 0h2m19 0h1m5 0h1m21 0h1m-128 1h1m42 0h1m30 0h1m1 0h1m-85 1h1m25 0h1m17 0h1m17 0h1m17 0h1m8 0h1m20 0h1m9 0h1m7 0h1m-98 1h1m19 0h1m8 0h1m2 0h1m21 0h1m12 0h1m5 0h1m14 0h1m-120 1h1m15 0h1m21 0h1m1 0h1m20 0h1m3 0h1m3 0h1m4 0h1m17 0h1m1 0h2m8 0h1m-105 1h1m6 0h2m3 0h1m10 0h2m6 0h1m2 0h1m12 0h1m69 0h1m16 0h1m-139 1h1m9 0h1m4 0h1m1 0h1m10 0h1m39 0h2m10 0h1m6 0h1m8 0h1m10 0h1m18 0h1m7 0h1m11 0h1m-138 1h1m19 0h1m10 0h1m18 0h1m20 0h1m6 0h1m15 0h1m13 0h1m-112 1h1m5 0h1m7 0h1m3 0h1m20 0h1m1 0h1m12 0h1m14 0h1m1 0h1m5 0h1m39 0h2m1 0h2m-111 1h1m29 0h1m13 0h1m23 0h1m1 0h1m4 0h1m4 0h1m5 0h1m2 0h1m13 0h1m-113 1h1m4 0h1m16 0h1m13 0h1m32 0h1m7 0h1m20 0h1m1 0h1m16 0h2m-120 1h1m9 0h1m5 0h1m14 0h1m4 0h1m7 0h1m16 0h1m11 0h1m11 0h1m10 0h1m14 0h1m-84 1h1m5 0h1m9 0h1m16 0h1m7 0h1m9 0h1m2 0h1m35 0h1m-117 1h1m4 0h2m3 0h1m2 0h1m22 0h1m6 0h1m3 0h2m13 0h1m3 0h2m17 0h1m5 0h1m15 0h1m-102 1h1m2 0h1m8 0h1m4 0h1m1 0h1m4 0h1m47 0h1m10 0h1m6 0h1m4 0h1m-108 1h1m6 0h1m5 0h1m4 0h1m11 0h1m25 0h1m19 0h2m21 0h1m-76 1h1m1 0h1m44 0h1m3 0h1m3 0h1m29 0h1m2 0h1m2 0h1m2 0h1m-121 1h1m1 0h1m26 0h1m3 0h2m15 0h1m19 0h1m9 0h1m37 0h1m-111 1h1m7 0h1m4 0h1m15 0h1m8 0h1m27 0h1m19 0h1m21 0h1m1 0h1m4 0h1m6 0h1m-127 1h1m31 0h1m1 0h1m15 0h1m17 0h1m16 0h1m22 0h1m1 0h1m3 0h1m4 0h1m-116 1h1m24 0h1m29 0h1m2 0h1m11 0h1m12 0h1m8 0h1m12 0h1m1 0h1m1 0h1m5 0h1m8 0h1m-117 1h1m26 0h1m5 0h1m10 0h1m30 0h1m14 0h2m-98 1h1m16 0h1m3 0h1m27 0h1m1 0h1m5 0h1m34 0h1m9 0h1m2 0h1m17 0h1m-109 1h1m29 0h1m3 0h1m23 0h1m1 0h1m31 0h1m-116 1h1m9 0h1m4 0h1m33 0h1m2 0h1m40 0h1m14 0h1m12 0h1m-106 1h1m2 0h1m27 0h1m9 0h1m11 0h1m12 0h1m24 0h1m-108 1h1m4 0h1m2 0h1m7 0h1m10 0h1m4 0h1m16 0h1m11 0h2m4 0h1m3 0h1m1 0h1m3 0h1m13 0h1m1 0h1m5 0h1m7 0h1m6 0h1m6 0h1m-80 1h2m42 0h1m1 0h2m4 0h1m2 0h1m2 0h1m6 0h1m8 0h1m-115 1h2m21 0h1m27 0h1m15 0h2m12 0h1m1 0h1m1 0h1m7 0h1m14 0h1m4 0h1m3 0h1m-115 1h1m4 0h2m9 0h1m26 0h1m27 0h1m1 0h1m8 0h2m12 0h1m2 0h1m2 0h1m-51 1h1m-36 1h1m17 0h1m20 0h1m1 0h1m5 0h1m16 0h1m7 0h1m7 0h1m1 0h1m2 0h1m1 0h1m2 0h1m9 0h1m-121 1h1m5 0h1m11 0h1m8 0h1m8 0h1m2 0h1m18 0h1m1 0h1m11 0h1m7 0h1m17 0h1m5 0h1m2 0h1m-103 1h2m3 0h1m6 0h1m6 0h1m5 0h2m1 0h1m22 0h1m29 0h1m26 0h1m-115 1h1m9 0h1m3 0h1m18 0h1m28 0h1m7 0h1m15 0h1m4 0h1m2 0h1m3 0h1m2 0h1m10 0h1m-89 1h1m10 0h1m8 0h1m43 0h1m9 0h1m2 0h2m10 0h1m-108 1h1m4 0h1m5 0h1m22 0h1m19 0h1m2 0h1m11 0h1m3 0h1m17 0h1m8 0h1m9 0h1m4 0h1m-118 1h1m23 0h2m16 0h1m2 0h1m18 0h1m3 0h1m30 0h1m3 0h1m3 0h1m-113 1h1m21 0h1m2 0h1m9 0h1m28 0h1m42 0h1m-106 1h1m11 0h1m14 0h1m8 0h1m11 0h1m65 0h2m-91 1h1m18 0h1m11 0h1m14 0h1m3 0h2m6 0h1m16 0h1m1 0h1m1 0h1m10 0h1m-112 1h1m22 0h1m15 0h1m62 0h2m9 0h1m-94 1h1m2 0h1m5 0h1m3 0h1m13 0h1m12 0h1m39 0h1m1 0h1m6 0h1m-101 1h1m4 0h1m45 0h1m-65 1h1m4 0h1m31 0h1m25 0h1m1 0h1m25 0h1m9 0h1m3 0h1m-81 1h1m11 0h1m22 0h1m2 0h1m33 0h1m9 0h1m5 0h1m-115 1h1m9 0h1m18 0h1m16 0h1m26 0h1m30 0h1m-106 1h1m13 0h1m10 0h1m2 0h1m3 0h1m64 0h2m-85 1h1m41 0h2m32 0h1m8 0h1m7 0h1m-102 1h1m25 0h1m30 0h2m38 0h1m-101 1h1m29 0h1m33 0h1" stroke="#777" stroke-width="1" fill="none"/><mask id="mkB" maskUnits="userSpaceOnUse" x="0" y="0" width="169" height="168"><g filter="url(#b2_5)"><polygon points="0,91 20,89 45,88 80,88 100,90 107,100 107,118 100,126 0,126" fill="#fff" fill-opacity="1"/></g><g filter="url(#b3)"><polygon points="0,126 100,126 95,150 85,167 0,167" fill="#fff" fill-opacity="0.9"/></g></mask><rect width="169" height="168" fill="url(#chk)" mask="url(#mkB)"/><g filter="url(#mb2_5_0)"><polygon points="3,129 30,129 33,140 32,160 26,166 3,166" fill="#000" fill-opacity="0.75"/></g><g filter="url(#mb3_1)"><ellipse cx="22" cy="142" rx="10" ry="13" fill="#000" fill-opacity="0.5"/></g><g filter="url(#mb5_2)"><ellipse cx="55" cy="110" rx="35" ry="10" fill="#000" fill-opacity="0.18"/></g><path d="M68 85.75h1.5m11.5 2h1.5m3.5 2h1.5m-76.5 1h1.5m20.5 1h1.5m39.5 0h1.5m22.5 0h1.5m-89.5 1h1.5m33.5 0h2.5m3.5 0h1.5m24.5 0h1.5m22.5 1h1.5m-85.5 1h1.5m30.5 0h1.5m38.5 0h1.5m9.5 0h1.5m-75.5 1h1.5m5.5 0h1.5m16.5 0h1.5m0.5 0h1.5m14.5 0h1.5m7.5 0h1.5m14.5 0h1.5m-90.5 1h1.5m63.5 0h1.5m2.5 0h1.5m-58.5 1h1.5m11.5 0h1.5m21.5 0h1.5m16.5 0h1.5m16.5 0h1.5m12.5 0h1.5m-45.5 1h1.5m21.5 0h1.5m0.5 0h1.5m4.5 0h1.5m-83.5 1h1.5m13.5 0h1.5m10.5 0h1.5m8.5 0h1.5m4.5 0h1.5m1.5 0h1.5m0.5 0h2.5m15.5 0h1.5m12.5 0h1.5m3.5 0h1.5m-93.5 1h1.5m24.5 0h1.5m7.5 0h1.5m22.5 0h1.5m8.5 0h1.5m2.5 0h1.5m12.5 0h1.5m13.5 0h1.5m-99.5 1h1.5m16.5 0h1.5m8.5 0h2.5m19.5 0h1.5m33.5 0h1.5m-87.5 1h1.5m45.5 0h1.5m5.5 0h1.5m3.5 0h1.5m4.5 0h1.5m6.5 0h3.5m2.5 0h1.5m-74.5 1h1.5m37.5 0h1.5m9.5 0h1.5m1.5 0h1.5m3.5 0h1.5m5.5 0h1.5m-56.5 1h2.5m2.5 0h1.5m22.5 0h1.5m6.5 0h2.5m23.5 0h1.5m11.5 0h1.5m-72.5 1h1.5m30.5 0h1.5m18.5 0h1.5m8.5 0h1.5m11.5 0h1.5m-75.5 1h1.5m1.5 0h1.5m6.5 0h2.5m7.5 0h1.5m1.5 0h1.5m1.5 0h1.5m9.5 0h2.5m16.5 0h1.5m3.5 0h1.5m1.5 0h1.5m2.5 0h2.5m-66.5 1h1.5m5.5 0h1.5m14.5 0h1.5m1.5 0h1.5m0.5 0h1.5m9.5 0h1.5m17.5 0h1.5m10.5 0h1.5m-87.5 1h1.5m15.5 0h1.5m26.5 0h1.5m16.5 0h1.5m1.5 0h1.5m8.5 0h1.5m4.5 0h1.5m-92.5 1h1.5m2.5 0h1.5m15.5 0h1.5m19.5 0h1.5m14.5 0h1.5m6.5 0h1.5m0.5 0h1.5m11.5 0h1.5m12.5 0h1.5m3.5 0h1.5m-104.5 1h1.5m19.5 0h1.5m2.5 0h1.5m15.5 0h1.5m14.5 0h2.5m19.5 0h1.5m-43.5 1h1.5m0.5 0h1.5m4.5 0h1.5m14.5 0h1.5m8.5 0h2.5m-62.5 1h1.5m16.5 0h1.5m0.5 0h1.5m13.5 0h1.5m0.5 0h1.5m14.5 0h1.5m0.5 0h1.5m20.5 0h1.5m-58.5 1h1.5m28.5 0h1.5m2.5 0h1.5m2.5 0h1.5m3.5 0h1.5m6.5 0h1.5m5.5 0h1.5m0.5 0h1.5m1.5 0h1.5m-54.5 1h1.5m2.5 0h1.5m5.5 0h2.5m10.5 0h1.5m3.5 0h1.5m5.5 0h1.5m13.5 0h1.5m-51.5 1h1.5m7.5 0h1.5m0.5 0h1.5m8.5 0h1.5m6.5 0h2.5m7.5 0h1.5m0.5 0h1.5m1.5 0h1.5m5.5 0h1.5m-90.5 1h1.5m23.5 0h1.5m9.5 0h1.5m0.5 0h1.5m10.5 0h1.5m10.5 0h1.5m18.5 0h1.5m4.5 0h1.5m3.5 0h2.5m-72.5 1h1.5m8.5 0h1.5m6.5 0h1.5m14.5 0h1.5m1.5 0h1.5m0.5 0h1.5m-30.5 1h1.5m3.5 0h1.5m24.5 0h1.5m3.5 0h1.5m-45.5 1h1.5m6.5 0h1.5m17.5 0h1.5m3.5 0h1.5m6.5 0h1.5m0.5 0h2.5m12.5 0h1.5m-87.5 1h1.5m19.5 0h1.5m19.5 0h1.5m13.5 0h1.5m10.5 0h1.5m4.5 0h1.5m-69.5 1h1.5m48.5 0h1.5m4.5 0h1.5m-30.5 1h1.5m61.5 0h1.5m-64.5 1h1.5m23.5 0h1.5m6.5 0h1.5m20.5 0h1.5m-92.5 1h1.5m28.5 0h1.5m22.5 0h1.5m-28.5 1h1.5m12.5 0h1.5m3.5 0h1.5m-27.5 1h1.5m0.5 0h1.5m47.5 0h2.5m2.5 0h1.5m-51.5 2h1.5m10.5 0h1.5m38.5 0h2.5m3.5 0h2.5m-43.5 1h1.5m14.5 0h1.5m32.5 0h2.5m-74.5 1h1.5m9.5 0h1.5m11.5 0h1.5m-28.5 1h1.5m25.5 0h2.5m31.5 0h1.5m-61.5 1h2.5m6.5 0h1.5m23.5 0h1.5m-13.5 1h1.5m29.5 0h1.5m-56.5 1h1.5m4.5 0h1.5m15.5 0h1.5m3.5 0h1.5m29.5 0h1.5m-63.5 1h1.5m2.5 0h1.5m4.5 0h1.5m45.5 0h1.5m-55.5 1h1.5m31.5 0h1.5m36.5 0h1.5m-76.5 1h2.5m2.5 0h1.5m5.5 0h2.5m36.5 0h1.5m4.5 0h1.5m-58.5 1h1.5m2.5 0h1.5m0.5 0h1.5m0.5 0h1.5m28.5 0h1.5m10.5 0h1.5m-51.5 1h1.5m3.5 0h1.5m5.5 0h2.5m5.5 0h1.5m5.5 0h1.5m-25.5 1h1.5m45.5 0h1.5m-50.5 1h1.5m32.5 0h1.5m45.5 0h1.5m-88.5 1h1.5m2.5 0h1.5m0.5 0h1.5m-17.5 1h1.5m9.5 0h1.5m0.5 0h1.5m0.5 0h1.5m1.5 0h1.5m7.5 0h1.5m-15.5 1h1.5m0.5 0h1.5m3.5 0h1.5m-13.5 1h1.5m12.5 0h1.5m8.5 0h1.5m-23.5 1h1.5m4.5 0h1.5m1.5 0h1.5m2.5 0h1.5m4.5 0h1.5m4.5 0h2.5m45.5 0h1.5m-59.5 1h1.5m14.5 0h1.5m17.5 0h1.5m1.5 0h1.5m16.5 0h1.5m-73.5 1h1.5m53.5 0h2.5m-51.5 1h1.5m3.5 0h2.5m2.5 0h1.5m1.5 0h1.5m29.5 0h1.5m-41.5 1h1.5m8.5 0h1.5m0.5 0h1.5m25.5 0h1.5m22.5 0h1.5m-77.5 1h1.5m20.5 0h1.5m1.5 0h2.5m20.5 0h1.5m6.5 0h1.5m17.5 0h1.5m-65.5 1h1.5m9.5 0h1.5m7.5 0h1.5m35.5 0h1.5m-59.5 1h2.5m15.5 1h1.5m19.5 0h1.5m17.5 0h1.5m16.5 0h1.5m-79.5 1h1.5m9.5 0h1.5m8.5 0h1.5m46.5 0h1.5m-81.5 1h1.5m22.5 1h1.5m59.5 0h1.5m-68.5 1h1.5m23.5 0h1.5m0.5 0h1.5m6.5 0h1.5m-49.5 1h1.5m14.5 1h1.5m22.5 0h1.5m1.5 0h1.5m13.5 0h1.5m-56.5 1h1.5m7.5 0h1.5m38.5 0h1.5m-51.5 1h1.5m9.5 0h1.5m62.5 0h2.5m-63.5 1h1.5m7.5 0h1.5m3.5 1h1.5m-10.5 1h1.5m0.5 0h1.5m3.5 0h1.5m36.5 0h1.5m-51.5 2h1.5" stroke="#0a0a0a" stroke-width="1.5" fill="none"/></g></g>
<g transform="translate(43 291)"><clipPath id="cpC"><rect x="1" y="1" width="167" height="166"/></clipPath><g clip-path="url(#cpC)"><path d="M107 27.5h1m-38 4h1m27 2h1m-56 1h1m26 0h1m35 0h1m29 0h1m-43 1h1m15 0h1m-34 1h1m-30 1h1m13 0h1m7 0h1m7 0h1m28 0h1m7 0h1m8 0h1m-61 1h1m5 0h1m2 0h1m36 0h1m1 0h1m16 0h1m-49 1h1m29 0h1m6 0h1m22 0h1m-85 1h1m5 0h1m14 0h1m2 0h1m9 0h1m58 0h1m-110 1h1m48 0h1m45 0h1m2 0h1m-62 1h1m26 0h1m47 0h1m-91 1h1m15 0h1m48 0h1m-89 1h1m7 0h1m5 0h1m9 0h1m9 0h1m42 0h1m-19 1h1m25 0h1m1 0h1m18 0h1m-119 1h1m87 0h1m2 0h1m-75 1h1m1 0h1m8 0h1m18 0h1m14 0h1m15 0h1m16 0h1m9 0h1m-70 1h1m1 0h1m7 0h1m10 0h1m8 0h1m2 0h1m28 0h2m-81 1h1m1 0h1m18 0h1m2 0h1m10 0h1m1 0h1m31 0h1m-73 1h2m32 0h1m25 0h1m27 0h1m-68 1h1m58 0h1m2 0h1m2 0h2m-62 1h1m10 0h2m41 0h1m-104 1h1m45 0h1m7 0h2m31 0h1m42 0h2m-99 1h1m6 0h1m5 0h1m13 0h1m23 0h2m2 0h1m17 0h1m24 0h1m8 0h1m-122 1h1m5 0h1m3 0h2m47 0h1m9 0h1m32 0h1m13 0h1m-115 1h1m24 0h1m12 0h1m12 0h1m27 0h1m5 0h1m-95 1h1m7 0h1m2 0h1m28 0h1m20 0h1m2 0h1m18 0h1m18 0h1m-104 1h1m34 0h1m4 0h1m9 0h1m25 0h1m5 0h1m-84 1h1m13 0h1m17 0h1m19 0h1m44 0h1m27 0h1m-111 1h1m3 0h2m18 0h1m11 0h1m-53 1h1m20 0h1m13 0h1m2 0h1m13 0h1m3 0h1m36 0h1m29 0h1m-108 1h1m15 0h1m11 0h1m-51 1h1m12 0h1m21 0h1m74 0h1m-88 1h1m14 0h1m2 0h1m48 0h1m-87 1h1m6 0h1m29 0h1m4 0h1m30 0h1m9 0h1m28 0h1m-125 1h1m31 0h1m14 0h1m7 0h1m29 0h1m33 0h1m19 0h1m-131 1h1m22 0h1m51 0h1m11 0h1m6 0h1m12 0h1m5 0h1m26 0h1m-102 1h1m5 0h1m30 0h1m4 0h1m22 0h1m10 0h1m8 0h1m-116 1h1m3 0h1m15 0h1m10 0h1m40 0h1m26 0h1m7 0h1m-116 1h1m52 0h1m20 0h1m17 0h1m5 0h1m8 0h1m-117 1h1m21 0h1m5 0h1m5 0h1m13 0h1m25 0h1m1 0h2m16 0h1m21 0h1m-96 1h1m44 0h1m2 0h1m10 0h1m12 0h1m1 0h1m17 0h1m19 0h1m-111 1h1m24 0h1m4 0h1m56 0h1m10 0h1m-108 1h1m21 0h1m1 0h1m1 0h2m1 0h1m10 0h1m32 0h1m11 0h1m11 0h1m2 0h1m8 0h1m-127 1h1m32 0h1m2 0h1m26 0h1m11 0h1m29 0h3m-94 1h1m12 0h1m100 0h1m-93 1h1m16 0h1m7 0h1m3 0h1m18 0h1m-90 1h1m15 0h1m1 0h1m7 0h1m14 0h1m2 0h1m55 0h1m19 0h1m30 0h1m-153 1h1m46 0h1m33 0h1m21 0h1m7 0h1m8 0h1m-101 1h1m1 0h1m5 0h1m27 0h1m15 0h1m3 0h2m3 0h1m26 0h1m-47 1h1m7 0h1m2 0h1m17 0h1m3 0h1m18 0h1m4 0h1m-101 1h1m33 0h1m7 0h1m33 0h1m1 0h1m1 0h1m5 0h1m15 0h1m-104 1h1m5 0h1m3 0h1m30 0h1m2 0h1m3 0h1m12 0h1m16 0h1m16 0h1m-108 1h1m47 0h1m61 0h1m-93 1h1m62 0h1m5 0h1m5 0h1m3 0h1m26 0h1m-131 1h1m12 0h1m10 0h1m18 0h1m3 0h1m5 0h1m24 0h1m9 0h1m1 0h1m-83 1h1m12 0h1m4 0h1m4 0h1m31 0h1m3 0h1m5 0h1m7 0h1m20 0h1m10 0h1m-103 1h2m9 0h1m12 0h1m15 0h1m4 0h1m35 0h1m17 0h1m3 0h1m5 0h1m9 0h1m-76 1h1m3 0h1m20 0h1m24 0h1m27 0h1m-125 1h1m4 0h1m1 0h1m2 0h1m35 0h1m21 0h1m10 0h1m24 0h1m-93 1h1m29 0h1m4 0h1m27 0h1m16 0h1m1 0h1m2 0h1m17 0h1m-111 1h1m9 0h2m22 0h2m21 0h1m7 0h1m1 0h1m9 0h2m-94 1h1m20 0h1m22 0h1m4 0h1m3 0h1m2 0h1m8 0h1m7 0h2m10 0h1m23 0h1m10 0h1m21 0h1m-127 1h2m29 0h2m5 0h1m13 0h1m2 0h1m33 0h1m18 0h1m-99 1h1m40 0h1m15 0h2m5 0h1m14 0h1m-105 1h1m6 0h1m2 0h1m13 0h1m8 0h1m6 0h1m26 0h1m4 0h1m5 0h1m3 0h1m14 0h1m1 0h1m15 0h1m21 0h1m-139 1h1m15 0h1m7 0h1m12 0h2m11 0h1m5 0h1m27 0h1m6 0h1m16 0h1m18 0h1m-134 1h1m28 0h1m5 0h1m23 0h1m18 0h1m65 0h1m-130 1h1m72 0h1m2 0h1m40 0h1m-116 1h2m7 0h1m22 0h1m14 0h1m16 0h1m8 0h1m-90 1h1m21 0h1m3 0h1m3 0h1m1 0h1m13 0h1m43 0h1m-80 1h1m26 0h1m9 0h1m5 0h1m27 0h1m4 0h1m29 0h1m2 0h1m10 0h2m-91 1h1m18 0h1m55 0h2m3 0h1m12 0h1m-124 1h1m11 0h1m1 0h1m3 0h1m24 0h1m7 0h1m11 0h1m2 0h1m6 0h1m11 0h1m32 0h1m-130 1h1m18 0h1m53 0h1m40 0h1m-115 1h1m19 0h1m3 0h1m6 0h1m6 0h1m4 0h1m48 0h1m26 0h1m-91 1h1m15 0h1m41 0h1m5 0h1m29 0h1m-103 1h2m1 0h1m1 0h1m35 0h1m5 0h1m39 0h1m-102 1h1m4 0h1m22 0h1m1 0h1m5 0h1m3 0h1m7 0h1m14 0h1m3 0h1m8 0h1m2 0h1m5 0h1m-25 1h1m10 0h1m5 0h1m7 0h1m-79 1h1m12 0h1m13 0h1m33 0h1m10 0h1m18 0h1m-83 1h1m12 0h1m15 0h1m34 0h1m16 0h3m20 0h1m-113 1h1m43 0h1m9 0h1m-49 1h1m6 0h2m1 0h1m7 0h1m7 0h1m13 0h1m6 0h1m1 0h1m27 0h1m2 0h1m17 0h1m2 0h1m14 0h1m-99 1h1m27 0h1m11 0h1m1 0h1m8 0h1m-65 1h1m1 0h1m14 0h1m15 0h1m29 0h1m6 0h1m11 0h1m-69 1h1m17 0h1m5 0h1m3 0h1m13 0h1m1 0h1m6 0h1m-54 1h1m20 0h1m10 0h1m6 0h1m2 0h1m10 0h1m-73 1h1m29 0h1m4 0h1m7 0h1m33 0h1m11 0h1m1 0h1m11 0h1m2 0h1m-126 1h1m51 0h1m2 0h1m1 0h1m10 0h1m6 0h1m10 0h1m13 0h1m1 0h1m2 0h1m5 0h1m4 0h1m14 0h1m-88 1h1m14 0h1m47 0h1m-60 1h1m39 0h1m28 0h1m5 0h1m-92 1h1m1 0h1m5 0h1m14 0h1m11 0h1m6 0h1m16 0h1m3 0h1m-23 1h1m8 0h2m9 0h1m23 0h1m-91 1h1m35 0h1m-6 1h1m44 0h1m-59 1h1m3 0h1m24 0h1m30 0h1m-62 1h1m1 0h1m7 0h1m8 0h1m14 0h1m1 0h1m5 0h1m14 0h1m-63 2h1m56 0h1m14 0h1m-74 1h1m13 0h1m17 0h1m-17 1h1m4 0h1m8 0h1m3 0h1m2 0h1m19 1h1m1 0h1m-53 1h1m15 0h1m27 0h1m15 0h1m-67 1h1m28 0h1m3 0h1m5 0h1m7 0h1m-45 1h1m1 0h1m2 0h1m8 0h1m17 0h1m28 0h1m-44 1h1m31 0h1m6 0h1m-53 1h1m26 0h1m4 0h2m10 0h1m-39 1h1m28 0h1m21 0h1m-55 1h1m23 0h1m7 0h1m1 0h1m10 0h1m8 0h1m-58 1h1m22 0h1m4 0h1m-31 1h1m9 0h2m18 0h3m13 0h1m-59 1h1m19 0h1m29 0h1m7 0h1m-60 1h1m7 0h1m2 0h1m4 0h1m3 0h1m6 1h1m1 0h1m7 0h1m1 0h1m1 0h1m13 0h1m1 0h1m21 0h1m-55 1h1m14 0h1m-7 1h1m1 0h1m3 0h1m3 0h1m11 0h1m2 0h1m-38 1h1m5 0h1m39 0h1m2 0h1m-50 1h1m41 0h1m-46 1h1m22 0h1m33 0h1m-45 1h1m4 0h1m5 0h1m7 0h1m1 0h1m-56 1h1m22 0h1m23 0h1m14 0h2m-14 1h1m-8 1h1m13 0h1m7 0h1m-46 1h1m17 0h1m10 0h1m17 0h1m-40 1h1m14 0h1m-35 1h1m8 0h1m28 0h1m-32 1h1m14 0h1m9 0h1m2 0h1m5 0h1m-44 1h1m13 0h1m35 0h1m-47 1h1m4 0h1m9 0h1m9 0h1m10 0h1m-31 1h1m30 0h1m-18 1h1m-23 1h1m29 0h1m18 0h1m11 0h1m-45 1h1m22 0h1m4 0h1m3 0h1m-48 1h1m15 0h1m7 0h1m1 1h1m-6 1h1" stroke="#777" stroke-width="1" fill="none"/><mask id="mkC" maskUnits="userSpaceOnUse" x="0" y="0" width="169" height="168"><g filter="url(#b3)"><polygon points="42,75 48,62 60,52 75,45 100,42 122,44 128,52 118,68 95,80 80,92 65,108 50,122 42,124" fill="#fff" fill-opacity="1"/></g><g filter="url(#b5)"><polygon points="42,118 60,112 80,114 92,126 88,150 70,166 42,166" fill="#fff" fill-opacity="0.7"/></g><g filter="url(#b2)"><polygon points="0,120 42,120 42,166 0,166" fill="#fff" fill-opacity="0.8"/></g></mask><rect width="169" height="168" fill="url(#chk)" mask="url(#mkC)"/><g filter="url(#b1_5)"><polygon points="5,114 10,104 16,97 24,91.5 32,87.5 38.5,84 42.5,82.5 44.2,86 45.2,96.6 43.3,112 40.4,125.4 38.4,136 33.6,142 20.2,143 8.6,141 5,134" fill="#000" fill-opacity="1"/></g><g filter="url(#mb3_1)"><polygon points="41.3,83.1 45.2,67.7 54.8,60 66.3,56.2 74,58.1 72.1,67.7 64.4,77.4 62.5,88.9 54.8,96.6 47.1,102.4" fill="#000" fill-opacity="0.8"/></g><g filter="url(#mb3_2)"><polygon points="3,95 10,90 20,85 30,80 38,74 44,68 46,80 40,88 25,94 10,102 4,108" fill="#000" fill-opacity="0.35"/></g><g filter="url(#mb3_0)"><polygon points="4,138 38,138 40,156 35,163 5,163" fill="#000" fill-opacity="0.68"/></g><g filter="url(#mb2_5_1)"><polygon points="3,100 12,95 12,125 3,125" fill="#000" fill-opacity="0.6"/></g><g filter="url(#mb2_2)"><polygon points="2,100 6,100 6,160 2,160" fill="#000" fill-opacity="0.4"/></g><path d="M78 46.75h2.5m19.5 1h1.5m-32.5 1h1.5m36.5 1h1.5m16.5 0h1.5m-63.5 3h1.5m8.5 0h1.5m4.5 0h1.5m-23.5 2h1.5m5.5 1h1.5m0.5 0h1.5m28.5 0h1.5m-16.5 1h1.5m-20.5 1h1.5m8.5 0h1.5m17.5 0h1.5m21.5 0h1.5m-67.5 2h1.5m18.5 0h1.5m1.5 0h1.5m20.5 0h1.5m-18.5 1h1.5m-14.5 1h1.5m31.5 0h1.5m27.5 0h1.5m-81.5 1h1.5m16.5 2h1.5m4.5 0h1.5m36.5 0h1.5m-62.5 1h1.5m1.5 0h1.5m28.5 1h1.5m-20.5 1h1.5m9.5 0h1.5m13.5 0h1.5m-45.5 1h1.5m12.5 0h1.5m-16.5 1h1.5m5.5 0h1.5m30.5 1h1.5m4.5 0h1.5m-68.5 2h1.5m39.5 1h1.5m-1.5 1h1.5m4.5 2h1.5m0.5 0h2.5m2.5 0h1.5m-33.5 1h1.5m14.5 0h1.5m-44.5 1h1.5m33.5 0h1.5m12.5 0h1.5m17.5 0h1.5m-57.5 1h1.5m31.5 0h1.5m11.5 0h1.5m-45.5 1h1.5m15.5 0h1.5m22.5 0h1.5m-10.5 1h1.5m4.5 1h1.5m9.5 0h1.5m-16.5 1h1.5m-2.5 1h1.5m-6.5 1h1.5m7.5 1h1.5m-58.5 1h1.5m68.5 0h1.5m-73.5 1h1.5m9.5 1h1.5m35.5 0h1.5m-32.5 1h1.5m17.5 0h1.5m27.5 1h1.5m-60.5 1h1.5m35.5 1h2.5m0.5 1h1.5m6.5 0h1.5m-39.5 1h1.5m27.5 0h1.5m14.5 5h1.5m-11.5 2h1.5m-5.5 4h1.5m4.5 13h1.5m-49.5 3h1.5m-0.5 1h1.5m44.5 3h1.5m-2.5 4h1.5m-6.5 1h1.5m-41.5 3h1.5m70.5 2h1.5m-61.5 3h1.5m-2.5 2h1.5m-7.5 1h1.5m-7.5 1h2.5m66.5 0h1.5m-68.5 1h1.5m2.5 0h1.5m-11.5 1h1.5m6.5 0h1.5m-7.5 1h2.5m2.5 2h1.5m23.5 0h1.5m5.5 1h1.5m-36.5 1h1.5m3.5 1h1.5m5.5 0h1.5m2.5 0h1.5m25.5 0h1.5m-28.5 1h1.5m39.5 1h1.5m-29.5 1h1.5m-16.5 1h1.5m-8.5 1h1.5m12.5 0h1.5m2.5 0h1.5m-9.5 1h1.5m7.5 0h1.5m-20.5 2h1.5m53.5 0h1.5m-22.5 4h1.5" stroke="#0a0a0a" stroke-width="1.5" fill="none"/></g></g>
<g transform="translate(279 290)"><clipPath id="cpD"><rect x="1" y="1" width="167" height="167"/></clipPath><g clip-path="url(#cpD)"><path d="M28 29.5h1m22 0h1m-43 1h1m4 1h1m-12 1h1m38 1h1m-19 1h1m115 0h1m26 0h1m-165 1h1m28 0h1m39 0h1m-40 1h1m84 0h1m13 0h1m-110 1h1m12 0h1m88 0h1m-123 1h1m2 0h1m3 0h1m23 0h1m2 0h1m58 0h1m66 0h1m-130 1h1m115 0h1m-143 1h1m129 0h1m26 0h1m-149 1h1m2 0h1m90 0h1m-92 1h1m4 0h1m5 0h1m64 0h1m20 0h1m40 0h1m-106 1h2m76 0h1m-78 1h1m16 0h1m28 0h1m11 0h1m28 0h1m-135 1h1m38 0h1m25 0h1m55 0h1m24 0h1m-136 1h1m7 0h1m6 0h1m8 0h1m29 0h1m2 0h1m78 0h1m-145 1h1m5 0h1m3 0h1m11 0h1m4 0h1m5 0h1m4 0h2m16 0h1m27 0h1m47 0h1m-137 1h1m34 0h1m13 0h1m1 0h1m72 0h1m-114 1h1m17 0h1m65 0h1m-87 1h1m8 0h1m55 0h1m34 0h1m-55 1h1m3 0h1m50 0h1m47 0h1m-164 1h2m3 0h1m8 0h1m8 0h1m4 0h1m16 0h1m39 0h1m4 0h1m54 0h1m-102 1h1m34 0h1m15 0h1m16 0h1m10 0h1m7 0h2m-129 1h1m36 0h1m77 0h1m6 0h1m-119 1h1m13 0h1m1 0h1m7 0h1m4 0h1m6 0h1m17 0h1m-61 1h1m14 0h1m8 0h1m4 0h1m102 0h1m14 0h1m-133 1h1m10 0h1m17 0h1m4 0h1m5 0h1m11 0h1m6 0h1m22 0h2m62 0h1m-140 1h1m3 0h1m3 0h1m14 0h1m2 0h1m67 0h1m-94 1h1m8 0h1m7 0h2m9 0h1m11 0h1m6 0h1m87 0h1m-157 1h2m19 0h1m24 0h1m22 0h1m5 0h1m8 0h1m1 0h1m9 0h1m-85 1h1m3 0h1m42 0h1m34 0h1m5 0h1m5 0h1m6 0h1m17 0h1m11 0h1m-140 1h1m38 0h1m49 0h1m38 0h1m1 0h1m-107 1h1m6 0h1m4 0h1m43 0h1m1 0h1m2 0h1m2 0h1m7 0h1m28 0h1m-99 1h1m3 0h1m41 0h1m2 0h1m2 0h1m1 0h1m-78 1h1m33 0h1m5 0h1m31 0h1m26 0h1m1 0h1m15 0h1m10 0h1m2 0h1m-123 1h1m11 0h1m50 0h1m4 0h1m21 0h1m18 0h1m-118 1h1m30 0h1m2 0h1m43 0h1m5 0h1m4 0h1m21 0h1m2 0h2m19 0h1m-128 1h1m5 0h1m3 0h1m3 0h1m1 0h1m27 0h1m17 0h1m59 0h1m-143 1h1m63 0h1m28 0h1m18 0h1m14 0h1m11 0h1m-139 1h1m28 0h1m49 0h1m6 0h2m8 0h1m34 0h1m23 0h1m-134 1h1m17 0h1m12 0h1m31 0h1m18 0h1m42 0h1m6 0h1m-120 1h1m38 0h1m16 0h1m5 0h1m32 0h1m13 0h1m17 0h1m-165 1h1m8 0h1m7 0h1m14 0h1m16 0h1m11 0h1m42 0h1m2 0h1m17 0h1m2 0h1m28 0h1m-117 1h1m22 0h1m22 0h1m25 0h1m1 0h1m1 0h1m14 0h1m22 0h1m9 0h1m-161 1h2m31 0h2m13 0h1m1 0h1m8 0h1m16 0h1m26 0h1m14 0h1m7 0h1m35 0h1m-149 1h1m2 0h1m54 0h1m10 0h1m16 0h1m1 0h2m2 0h1m14 0h1m35 0h1m-160 1h1m23 0h1m20 0h1m16 0h1m5 0h1m8 0h1m2 0h1m52 0h1m11 0h1m16 0h1m-165 1h1m23 0h1m3 0h1m7 0h1m13 0h1m62 0h1m2 0h1m-107 1h1m5 0h1m18 0h1m10 0h1m3 0h1m27 0h1m1 0h1m1 0h1m8 0h1m13 0h1m2 0h1m34 0h1m19 0h1m-142 1h1m22 0h2m3 0h1m6 0h1m7 0h1m24 0h1m4 0h2m15 0h1m10 0h1m5 0h1m10 0h1m1 0h1m4 0h1m-134 1h1m13 0h1m14 0h1m8 0h1m81 0h1m10 0h1m6 0h1m13 0h1m-164 1h1m11 0h1m21 0h1m10 0h1m15 0h1m16 0h1m10 0h1m4 0h1m7 0h1m14 0h1m5 0h1m-115 1h1m12 0h1m10 0h1m5 0h1m7 0h1m6 0h1m21 0h1m7 0h1m1 0h1m2 0h1m5 0h1m14 0h1m2 0h1m12 0h1m14 0h1m13 0h1m-153 1h1m43 0h2m3 0h1m19 0h1m2 0h1m4 0h1m40 0h1m1 0h1m2 0h1m-126 1h1m16 0h1m15 0h1m27 0h1m35 0h1m14 0h1m1 0h1m3 0h1m5 0h1m2 0h1m16 0h1m4 0h1m10 0h1m-138 1h1m3 0h2m7 0h1m2 0h1m8 0h1m4 0h1m8 0h1m13 0h1m15 0h2m4 0h1m22 0h1m9 0h1m7 0h2m7 0h1m3 0h1m-156 1h1m27 0h1m9 0h1m5 0h1m30 0h1m5 0h1m15 0h1m4 0h1m5 0h1m21 0h1m2 0h1m1 0h1m7 0h1m17 0h1m-132 1h1m3 0h1m10 0h1m46 0h1m40 0h1m2 0h1m1 0h1m7 0h1m2 0h1m-132 1h1m15 0h1m6 0h1m5 0h1m8 0h3m9 0h1m2 0h1m8 0h1m3 0h1m5 0h1m12 0h1m16 0h1m5 0h1m6 0h1m5 0h1m3 0h1m-92 1h1m2 0h1m12 0h1m10 0h1m3 0h1m1 0h1m3 0h1m11 0h1m9 0h1m14 0h1m2 0h2m22 0h1m-137 1h1m4 0h1m5 0h1m10 0h1m10 0h1m36 0h1m7 0h1m28 0h1m12 0h1m2 0h1m3 0h2m15 0h1m-161 1h1m78 0h2m18 0h1m8 0h1m1 0h1m9 0h1m36 0h1m5 0h1m-168 1h1m7 0h2m4 0h1m9 0h1m27 0h1m10 0h1m1 0h2m1 0h1m10 0h1m12 0h1m4 0h1m26 0h2m23 0h1m15 0h1m-162 1h1m6 0h1m37 0h1m4 0h1m12 0h1m4 0h1m16 0h1m25 0h1m6 0h1m12 0h1m3 0h1m15 0h1m-152 1h1m11 0h1m53 0h1m20 0h1m1 0h1m47 0h1m23 0h1m-153 1h1m14 0h1m10 0h1m2 0h1m16 0h1m5 0h1m5 0h2m4 0h1m2 0h1m10 0h2m10 0h1m14 0h1m15 0h2m3 0h1m6 0h2m7 0h1m12 0h1m-165 1h1m5 0h1m41 0h1m19 0h1m38 0h1m20 0h1m4 0h1m2 0h1m16 0h1m-151 1h1m2 0h1m22 0h1m15 0h1m8 0h1m8 0h1m23 0h1m4 0h1m4 0h1m34 0h1m5 0h1m2 0h1m4 0h1m-148 1h1m62 0h1m7 0h1m2 0h1m15 0h1m1 0h1m7 0h1m5 0h1m9 0h1m16 0h1m11 0h2m-122 1h1m4 0h1m1 0h1m3 0h2m2 0h1m10 0h1m28 0h1m14 0h1m8 0h1m2 0h1m13 0h1m1 0h1m8 0h1m9 0h2m3 0h1m10 0h1m-162 1h1m12 0h1m1 0h1m9 0h1m49 0h1m16 0h1m2 0h1m4 0h1m14 0h1m13 0h1m4 0h1m1 0h2m3 0h1m2 0h1m-135 1h1m1 0h1m39 0h1m9 0h1m6 0h1m6 0h1m12 0h1m5 0h2m13 0h1m5 0h1m3 0h1m10 0h1m2 0h2m6 0h1m22 0h1m-159 1h1m5 0h1m4 0h1m14 0h1m34 0h1m12 0h1m2 0h2m5 0h1m5 0h1m12 0h1m5 0h1m15 0h1m3 0h2m9 0h1m-145 1h1m9 0h1m3 0h1m21 0h1m4 0h1m23 0h1m48 0h1m14 0h1m5 0h1m3 0h1m4 0h1m4 0h1m8 0h1m-153 1h1m15 0h1m9 0h1m19 0h1m18 0h2m2 0h1m6 0h1m23 0h1m1 0h1m7 0h1m15 0h1m2 0h1m3 0h1m10 0h2m3 0h1m-121 1h1m10 0h1m21 0h1m5 0h1m5 0h1m3 0h1m15 0h1m4 0h1m15 0h1m7 0h1m6 0h1m9 0h1m1 0h1m-143 1h1m7 0h2m1 0h1m2 0h1m2 0h1m4 0h1m25 0h1m9 0h1m4 0h1m7 0h1m14 0h1m10 0h1m3 0h1m25 0h1m5 0h1m8 0h1m-101 1h1m6 0h1m16 0h1m33 0h1m8 0h1m33 0h1m10 0h1m-157 1h1m3 0h1m1 0h1m18 0h1m8 0h1m29 0h1m3 0h1m13 0h1m11 0h1m4 0h2m8 0h1m5 0h1m2 0h1m6 0h1m1 0h1m6 0h1m6 0h1m9 0h1m-159 1h1m8 0h1m40 0h1m2 0h1m11 0h1m2 0h1m14 0h1m6 0h1m12 0h1m35 0h1m11 0h1m1 0h2m2 0h1m-136 1h1m3 0h1m41 0h1m41 0h1m16 0h1m33 0h1m-120 1h1m29 0h1m2 0h1m5 0h1m1 0h1m3 0h1m7 0h1m14 0h1m4 0h1m6 0h1m-101 1h1m14 0h1m9 0h1m8 0h1m21 0h1m12 0h1m6 0h1m23 0h1m22 0h1m5 0h1m8 0h1m-154 1h1m21 0h1m28 0h1m23 0h1m43 0h1m2 0h1m14 0h2m-142 1h1m37 0h1m38 0h1m12 0h1m15 0h1m10 0h1m16 0h1m5 0h1m-134 1h1m6 0h1m12 0h1m8 0h1m12 0h1m23 0h1m15 0h1m54 0h1m2 0h1m-125 1h1m5 0h1m33 0h1m26 0h1m1 0h1m12 0h1m21 0h1m4 0h1m17 0h1m3 0h1m-112 1h1m5 0h1m10 0h1m8 0h1m1 0h1m2 0h1m1 0h1m6 0h1m8 0h1m35 0h1m4 0h1m16 0h1m-113 1h1m18 0h1m9 0h1m4 0h1m22 0h1m9 0h1m5 0h1m35 0h1m14 0h1m-114 1h1m6 0h1m2 0h1m7 0h1m23 0h1m12 0h1m3 0h1m-77 1h1m29 0h1m13 0h1m11 0h1m3 0h3m-84 1h1m68 0h1m4 0h1m4 0h1m66 0h1m-160 1h1m9 0h1m21 0h1m10 0h1m52 0h1m58 0h1m-92 1h1m10 0h1m16 0h1m4 0h1m10 0h1m22 0h1m-65 1h1m17 0h1m11 0h2m10 0h1m-27 1h1m9 0h1m27 0h2m-68 1h1m35 0h1m4 0h2m15 0h1m-59 1h1m38 0h1m7 0h1m8 0h1m-51 1h1m20 0h1m27 0h1m1 0h1m-62 1h1m8 0h1m6 0h1m1 0h1m16 0h1m9 0h1m-50 1h1m24 0h1m8 0h1m36 0h1m-43 1h1m22 0h1m11 0h1m-54 1h1m7 0h1m1 0h1m15 0h1m3 0h1m-21 1h1m20 0h1m10 0h1m6 0h1m1 0h1m15 0h1m-48 1h1m16 0h1m5 0h1m13 0h1m5 0h1m-63 1h1m1 0h2m18 1h1m25 0h1m2 0h1m5 0h1m-63 1h2m11 0h1m1 0h1m14 0h1m14 0h1m10 0h1m44 0h1m-91 1h1m7 0h1m1 0h1m18 0h1m17 0h1m-34 1h1m-16 1h1m4 0h3m4 0h1m25 0h1m2 0h1m-46 1h1m16 0h1m25 0h1m-41 1h1m10 0h1m12 0h1m23 0h1m2 0h1m-55 1h1m11 0h1m11 0h1m18 0h2m-30 1h1m1 0h1m6 0h1m20 0h1m-29 1h1m-1 1h2m47 0h1m-55 2h1m18 0h1m14 0h1m-42 1h1m26 0h1m-16 1h1m4 0h1m1 0h1m29 0h1m-34 1h1m28 0h1m-53 1h1m6 0h1m6 0h1m12 0h1m12 0h1m13 0h1m-15 1h1m11 0h1m-60 1h1m25 0h1m1 0h1m1 0h1m20 0h1m-41 1h1m9 0h1m1 0h1m13 0h1m11 0h2m-50 1h1m8 0h1m1 0h1m2 0h1m24 0h1m10 0h1m-48 1h1m3 0h1m9 0h1m-8 1h1m34 0h1m-44 1h1m32 0h1m2 0h1m16 0h1m10 0h1m-62 1h1m27 0h1m25 1h1m-28 1h1m19 0h1m-33 1h1m21 0h1m-29 1h1m5 0h1m19 0h1m7 0h1m-11 1h1m3 0h1m-38 1h1m10 0h1m7 0h1m7 0h1" stroke="#777" stroke-width="1" fill="none"/><mask id="mkD" maskUnits="userSpaceOnUse" x="0" y="0" width="169" height="169"><g filter="url(#b3)"><polygon points="2,45 20,42 38,46 50,60 57,80 57,114 2,114" fill="#fff" fill-opacity="1"/></g><g filter="url(#b3)"><polygon points="0,116 57,116 57,166 0,166" fill="#fff" fill-opacity="0.9"/></g></mask><rect width="169" height="169" fill="url(#chk)" mask="url(#mkD)"/><g filter="url(#mb1_5_0)"><polygon points="4.7,52 12,49.5 22,50.5 29,54 30,70 30,90 4.7,90" fill="#000" fill-opacity="0.94"/></g><g filter="url(#mb2_1)"><polygon points="4.7,88 30,88 28,100 25,110 4.7,110" fill="#000" fill-opacity="0.62"/></g><g filter="url(#mb2_2)"><polygon points="7,56 14,53 22,54 26,60 26,82 7,82" fill="#000" fill-opacity="0.9"/></g><g filter="url(#mb2_0)"><ellipse cx="15" cy="110" rx="12" ry="5" fill="#000" fill-opacity="0.4"/></g><g filter="url(#mb4_1)"><ellipse cx="23" cy="138" rx="14" ry="18" fill="#000" fill-opacity="0.7" transform="rotate(-20 23 138)"/></g><path d="M16 39.75h1.5m2.5 2h1.5m-17.5 2h1.5m28.5 2h1.5m-13.5 2h1.5m6.5 1h1.5m-4.5 1h1.5m1.5 0h1.5m2.5 1h1.5m-20.5 2h1.5m3.5 0h1.5m8.5 0h1.5m5.5 0h1.5m-3.5 1h1.5m-34.5 1h1.5m9.5 0h1.5m2.5 1h1.5m7.5 0h1.5m2.5 0h1.5m-2.5 1h1.5m-12.5 1h1.5m13.5 0h1.5m1.5 0h1.5m1.5 1h1.5m-10.5 1h1.5m1.5 0h2.5m-29.5 1h1.5m19.5 0h1.5m3.5 0h2.5m-5.5 3h1.5m3.5 0h1.5m10.5 0h1.5m0.5 0h1.5m-48.5 1h1.5m14.5 0h1.5m9.5 0h2.5m7.5 0h1.5m-8.5 1h1.5m1.5 0h1.5m3.5 0h1.5m-12.5 1h1.5m-23.5 1h1.5m25.5 0h1.5m-12.5 1h1.5m-17.5 1h1.5m19.5 0h2.5m4.5 0h1.5m14.5 0h1.5m-42.5 1h1.5m33.5 1h1.5m-6.5 1h1.5m2.5 0h1.5m-9.5 2h1.5m13.5 0h1.5m-45.5 1h1.5m17.5 0h1.5m5.5 0h1.5m0.5 1h1.5m8.5 0h1.5m-18.5 1h1.5m0.5 0h1.5m4.5 0h2.5m5.5 0h1.5m-12.5 1h1.5m0.5 0h1.5m-6.5 1h2.5m8.5 0h1.5m3.5 0h1.5m4.5 1h1.5m-18.5 1h1.5m2.5 0h1.5m5.5 0h1.5m-44.5 1h1.5m27.5 0h1.5m-19.5 1h1.5m20.5 0h3.5m9.5 1h1.5m-21.5 1h1.5m3.5 0h1.5m1.5 0h1.5m7.5 0h1.5m-13.5 1h1.5m-8.5 1h1.5m6.5 0h1.5m0.5 0h1.5m-4.5 1h1.5m3.5 0h1.5m5.5 0h1.5m-39.5 1h1.5m16.5 0h1.5m2.5 0h1.5m3.5 0h1.5m10.5 0h1.5m-22.5 1h1.5m17.5 0h1.5m-19.5 1h1.5m-6.5 1h1.5m-11.5 1h1.5m-1.5 1h1.5m18.5 0h1.5m3.5 0h1.5m9.5 0h1.5m-19.5 3h1.5m12.5 0h1.5m-36.5 1h1.5m8.5 3h1.5m20.5 0h2.5m-23.5 1h1.5m-4.5 3h1.5m-3.5 1h1.5m3.5 0h1.5m11.5 1h1.5m-32.5 1h1.5m3.5 2h2.5m1.5 0h1.5m-6.5 2h1.5m35.5 1h1.5m7.5 0h1.5m-36.5 6h1.5m14.5 0h1.5m-7.5 2h1.5m17.5 0h1.5m-15.5 2h1.5m11.5 0h1.5m-29.5 1h2.5m10.5 0h1.5m0.5 0h1.5m-21.5 1h1.5m14.5 0h1.5m-20.5 1h1.5m2.5 0h1.5m16.5 0h1.5m8.5 0h1.5m-40.5 1h1.5m19.5 0h1.5m2.5 0h2.5m2.5 0h1.5m1.5 0h1.5m-26.5 1h2.5m12.5 0h1.5m5.5 0h1.5m5.5 0h1.5m14.5 0h1.5m-37.5 1h1.5m1.5 0h1.5m-3.5 1h1.5m1.5 0h1.5m11.5 0h1.5m0.5 0h2.5m-24.5 1h1.5m1.5 0h1.5m1.5 0h1.5m23.5 0h1.5m-32.5 1h1.5m14.5 0h1.5m7.5 0h1.5m-26.5 1h1.5m7.5 0h1.5m3.5 0h1.5m-6.5 1h1.5m2.5 0h1.5m7.5 0h1.5m-29.5 1h1.5m1.5 0h1.5m7.5 0h1.5m2.5 0h1.5m3.5 0h1.5m-17.5 1h1.5m0.5 0h1.5m5.5 1h1.5m18.5 0h1.5m-7.5 1h1.5m-15.5 1h1.5m-21.5 1h1.5m26.5 0h1.5m16.5 0h1.5m-21.5 2h1.5m2.5 0h1.5m17.5 0h1.5m-40.5 1h1.5m0.5 0h1.5m8.5 0h1.5m6.5 0h1.5m2.5 0h1.5m-18.5 1h1.5m6.5 0h1.5m7.5 0h1.5m4.5 0h1.5m-23.5 1h1.5m1.5 0h1.5m2.5 0h1.5m18.5 0h1.5m-32.5 1h1.5m6.5 0h1.5m2.5 0h1.5m-4.5 1h1.5m10.5 0h1.5m-7.5 1h1.5m-29.5 1h1.5m20.5 0h1.5m13.5 0h1.5m0.5 0h1.5m-28.5 2h1.5m1.5 0h1.5m2.5 0h1.5m4.5 0h1.5m4.5 0h1.5m-25.5 1h1.5m8.5 0h1.5m5.5 0h1.5m20.5 0h1.5m-34.5 1h1.5m2.5 0h1.5m10.5 0h1.5m-19.5 1h1.5m2.5 0h1.5m17.5 0h1.5m3.5 1h1.5m-17.5 2h1.5m1.5 0h1.5m-5.5 5h2.5m-13.5 3h1.5" stroke="#0a0a0a" stroke-width="1.5" fill="none"/></g></g>
<g transform="translate(38 550)"><clipPath id="cpE"><rect x="1" y="1" width="167" height="166"/></clipPath><g clip-path="url(#cpE)"><path d="M62 18.5h1m-2 6h1m25 1h1m63 0h1m-36 1h1m8 0h1m-76 1h1m-6 1h1m83 1h1m-90 1h1m121 0h1m-137 1h1m84 0h1m-80 1h1m7 0h1m46 0h1m11 0h1m50 0h1m-117 1h1m16 0h1m15 0h1m14 0h1m-67 1h1m45 0h1m1 0h1m-40 1h1m28 0h1m16 0h1m-11 1h1m5 0h1m34 0h1m12 0h1m22 0h1m-96 1h1m5 0h1m46 0h1m3 0h1m45 0h1m2 0h1m-94 1h1m16 0h1m23 0h1m36 0h1m7 0h1m-63 1h1m18 0h1m1 0h1m11 0h1m-95 1h1m4 0h1m49 0h1m26 0h1m33 0h1m-95 1h1m9 0h1m33 0h1m18 0h1m11 0h1m1 0h1m14 0h1m1 0h1m4 0h1m16 0h1m-158 1h1m43 0h1m32 0h1m11 0h1m23 0h1m16 0h2m9 0h1m21 0h1m2 0h1m-120 1h1m50 0h1m-75 1h2m10 0h1m59 0h1m12 0h1m30 0h1m-123 1h1m8 0h1m40 0h1m49 0h1m42 0h1m-112 1h1m5 0h1m5 0h1m16 0h1m11 0h1m35 0h1m4 0h1m-103 1h2m20 0h1m8 0h1m63 0h1m26 0h1m-146 1h1m22 0h1m10 0h1m16 0h1m21 0h1m27 0h1m16 0h1m-96 1h1m3 0h1m4 0h2m31 0h1m4 0h1m12 0h1m9 0h1m5 0h1m21 0h2m-92 1h1m5 0h1m10 0h1m10 0h1m15 0h2m1 0h1m11 0h1m6 0h1m21 0h1m3 0h1m33 0h1m-149 1h1m19 0h1m1 0h1m18 0h1m14 0h1m29 0h1m11 0h1m36 0h1m-138 1h1m34 0h1m9 0h1m22 0h1m2 0h1m18 0h1m10 0h1m33 0h1m8 0h2m-160 1h1m20 0h1m24 0h1m71 0h1m9 0h1m29 0h1m4 0h1m-149 1h1m6 0h1m14 0h1m8 0h1m2 0h1m35 0h1m28 0h1m2 0h1m18 0h1m19 0h1m-118 1h1m14 0h1m26 0h1m10 0h1m40 0h1m10 0h1m5 0h1m-130 1h1m12 0h1m10 0h1m22 0h1m3 0h1m12 0h1m2 0h1m12 0h1m2 0h1m36 0h1m-115 1h1m10 0h1m2 0h1m7 0h1m34 0h1m10 0h1m5 0h1m17 0h1m28 0h2m-127 1h1m48 0h1m22 0h1m19 0h1m-93 1h1m21 0h1m22 0h1m5 0h1m6 0h1m9 0h1m1 0h1m31 0h1m24 0h1m6 0h2m-149 1h1m11 0h1m8 0h1m6 0h1m15 0h1m20 0h1m79 0h1m4 0h1m-153 1h1m11 0h1m33 0h1m17 0h1m11 0h1m1 0h1m7 0h1m25 0h1m1 0h1m30 0h1m-121 1h1m10 0h1m43 0h1m-52 1h1m25 0h1m14 0h1m3 0h1m1 0h1m6 0h2m6 0h1m6 0h1m8 0h1m11 0h1m10 0h1m11 0h1m9 0h1m-125 1h1m17 0h1m18 0h1m39 0h1m1 0h2m1 0h1m3 0h1m1 0h1m19 0h1m3 0h1m-140 1h1m15 0h1m2 0h1m18 0h1m41 0h1m21 0h1m20 0h1m15 0h1m5 0h1m3 0h1m5 0h1m-154 1h1m10 0h1m15 0h1m4 0h1m3 0h1m16 0h1m13 0h1m12 0h1m10 0h1m42 0h1m5 0h2m5 0h1m8 0h1m-158 1h1m63 0h1m3 0h1m16 0h1m7 0h1m15 0h1m8 0h2m7 0h1m-138 1h2m8 0h1m2 0h1m8 0h1m18 0h1m16 0h1m26 0h1m31 0h1m5 0h1m20 0h1m15 0h1m-129 1h1m3 0h1m12 0h1m11 0h1m9 0h1m3 0h1m1 0h1m31 0h1m2 0h1m8 0h1m9 0h1m4 0h1m5 0h1m2 0h1m10 0h1m-155 1h1m8 0h1m48 0h1m27 0h1m2 0h1m8 0h1m26 0h1m7 0h1m18 0h2m-114 1h1m6 0h1m11 0h1m13 0h1m23 0h1m6 0h1m7 0h1m16 0h1m5 0h1m-82 1h1m51 0h1m27 0h1m-111 1h1m15 0h1m23 0h1m64 0h1m4 0h1m-132 1h1m27 0h1m27 0h1m1 0h1m37 0h1m29 0h1m4 0h1m18 0h1m-135 1h1m53 0h1m29 0h1m-63 1h1m14 0h1m8 0h1m1 0h1m4 0h1m79 0h1m-107 1h1m15 0h1m14 0h1m8 0h1m22 0h1m-107 1h1m26 0h1m4 0h1m3 0h1m26 0h1m16 0h1m2 0h1m9 0h1m12 0h1m5 0h1m30 0h1m10 0h3m-107 1h1m18 0h1m21 0h1m24 0h1m9 0h2m19 0h1m8 0h1m2 0h2m-139 1h1m5 0h1m11 0h1m4 0h1m3 0h1m20 0h1m25 0h1m35 0h1m-121 1h1m15 0h1m3 0h1m20 0h1m43 0h1m8 0h1m14 0h1m5 0h1m10 0h1m5 0h1m-126 1h1m10 0h1m22 0h1m8 0h1m7 0h1m9 0h1m13 0h1m21 0h1m-107 1h1m27 0h1m47 0h1m1 0h1m2 0h1m6 0h1m4 0h1m6 0h2m18 0h2m22 0h1m-144 1h2m18 0h1m1 0h1m5 0h1m8 0h1m9 0h1m65 0h1m17 0h1m14 0h1m-95 1h1m4 0h1m17 0h1m5 0h1m3 0h1m8 0h1m17 0h1m2 0h1m23 0h1m-150 1h1m24 0h1m10 0h1m27 0h1m8 0h1m18 0h1m57 0h1m-149 1h1m4 0h1m23 0h1m15 0h1m22 0h1m1 0h1m18 0h1m4 0h1m1 0h1m9 0h1m26 0h1m-138 1h1m33 0h1m71 0h1m2 0h1m20 0h1m13 0h1m1 0h1m-149 1h1m16 0h1m4 0h1m4 0h1m4 0h1m5 0h2m24 0h1m35 0h1m40 0h1m6 0h1m-141 1h1m13 0h1m4 0h1m12 0h1m36 0h2m4 0h1m12 0h1m10 0h1m1 0h1m7 0h1m45 0h1m1 0h1m-122 1h1m4 0h1m9 0h1m10 0h1m55 0h1m2 0h1m-121 1h1m28 0h1m27 0h1m14 0h1m8 0h1m6 0h1m9 0h1m22 0h1m5 0h1m4 0h1m2 0h1m17 0h1m-150 1h1m2 0h1m32 0h1m7 0h1m11 0h1m4 0h2m20 0h1m12 0h1m10 0h2m23 0h1m7 0h1m3 0h1m-119 1h1m8 0h1m19 0h1m34 0h1m9 0h1m-98 1h1m12 0h1m19 0h1m18 0h1m1 0h1m4 0h1m6 0h1m3 0h1m14 0h1m6 0h1m29 0h1m-94 1h1m4 0h1m7 0h1m36 0h1m9 0h1m16 0h1m25 0h1m-142 1h1m22 0h1m9 0h1m1 0h2m13 0h1m20 0h1m6 0h1m16 0h1m12 0h1m1 0h1m16 0h1m10 0h1m3 0h1m-101 1h1m3 0h1m10 0h1m3 0h2m75 0h1m-121 1h1m11 0h1m12 0h1m51 0h1m8 0h1m2 0h1m33 0h1m-150 1h1m49 0h1m14 0h1m6 0h1m12 0h1m10 0h1m22 0h1m26 0h1m-87 1h1m18 0h1m3 0h1m7 0h1m8 0h2m11 0h1m7 0h1m20 0h1m-126 1h1m22 0h1m26 0h1m22 0h1m2 0h1m12 0h1m5 0h1m6 0h1m19 0h1m6 0h1m1 0h1m-93 1h1m4 0h1m32 0h1m1 0h1m16 0h1m6 0h1m2 0h1m19 0h2m-115 1h1m39 0h1m4 0h1m11 0h1m27 0h1m35 0h1m9 0h1m-132 1h1m13 0h1m23 0h1m30 0h1m3 0h1m6 0h1m7 0h1m12 0h1m-96 1h1m10 0h1m19 0h2m4 0h1m3 0h1m42 0h1m-89 1h1m50 0h1m4 0h1m20 0h1m25 0h1m4 0h1m10 0h1m8 0h1m6 0h1m-154 1h1m45 0h1m15 0h1m17 0h1m12 0h1m6 0h1m33 0h1m-72 1h1m33 0h1m23 0h1m2 0h1m-88 1h1m14 0h1m7 0h1m27 0h1m5 0h1m28 0h1m3 0h1m16 0h1m-94 1h1m25 0h1m8 0h1m2 0h2m1 0h1m31 0h1m6 0h1m-75 1h1m7 0h1m5 0h1m2 0h1m7 0h1m19 0h1m8 0h1m24 0h1m-115 1h1m4 0h1m12 0h1m69 0h1m24 0h1m-101 1h1m9 0h1m6 0h1m5 0h1m28 0h2m5 0h1m3 0h1m15 0h2m-80 1h1m9 0h1m9 0h1m26 0h1m5 0h1m12 0h1m3 0h1m2 0h1m20 0h1m1 0h1m-73 1h1m5 0h1m1 0h1m9 0h1m1 0h1m4 0h1m7 0h1m37 0h1m7 0h1m-94 1h1m1 0h1m21 0h1m22 0h1m10 0h1m13 0h1m-81 1h1m12 0h1m4 0h1m21 0h1m2 0h1m1 0h1m8 0h1m31 1h1m-81 1h1m54 0h1m1 0h1m2 0h1m40 0h1m-108 1h1m11 0h1m9 0h1m3 0h1m14 0h1m21 0h1m10 0h1m2 0h1m16 0h1m-76 1h1m2 0h1m15 0h1m21 0h2m9 0h1m3 0h1m10 0h1m1 0h1m-66 1h1m46 0h1m6 0h1m-100 1h1m27 0h1m9 0h1m5 0h1m21 0h1m1 0h1m21 0h1m19 0h1m-83 1h1m24 0h1m1 0h1m21 0h1m3 0h1m29 0h1m-78 1h1m12 0h2m26 0h1m-38 1h1m17 0h1m8 0h1m10 0h1m22 0h1m11 0h1m-86 1h1m3 0h1m9 0h1m25 0h1m10 0h1m-49 1h1m5 0h1m19 0h1m6 0h2m15 0h1m1 0h1m9 0h1m27 0h1m-41 1h1m25 0h1m6 0h1m-90 1h2m33 0h1m7 0h1m3 0h1m21 0h1m-63 1h1m19 0h1m6 0h1m32 0h1m13 0h1m-58 1h1m1 0h1m3 0h1m33 0h2m3 0h1m2 0h1m8 0h1m1 0h1m3 0h1m-39 1h1m6 0h1m28 1h1m-49 1h1m24 0h1m-41 1h1m3 0h1m4 0h1m26 0h1m16 0h1m3 0h1m-33 1h1m8 0h1m1 0h1m-31 1h1m8 0h1m36 0h1m-67 1h1m7 0h2m9 0h1m-7 1h1m1 0h1m1 0h1m1 0h1m2 0h1m5 0h1m15 0h1m1 0h1m14 0h1m2 0h2m-49 1h1m1 0h1m34 0h1m3 0h1m-72 1h1m9 0h1m18 0h1m31 0h1m34 0h1m-36 1h1m14 0h1m15 0h1m-87 1h1m9 0h1m18 0h1m28 0h2m2 0h1m-52 1h1m5 0h1m4 0h1m4 0h1m32 0h1m7 0h1m-71 1h1m46 0h1m1 0h1m9 0h1m1 0h1m-53 1h1m19 0h1m-5 1h1m7 0h1m3 0h1m7 0h2m24 0h1m1 0h1m-67 1h1m28 0h1m37 0h1m-75 1h1m16 0h1m16 0h1m-16 1h1m4 0h1m14 0h1m3 0h1m15 0h1m22 0h1m-58 1h2m4 0h1m16 0h1m18 0h1m-57 1h1m3 0h1m0 1h1m18 0h1m21 0h1m5 0h1m-50 1h1m7 0h1m16 0h1m4 0h1m3 0h1m10 0h1m2 0h2m-55 1h1m13 0h1m28 0h1m-43 1h1m22 0h1m4 0h1m15 0h1m18 0h1m-66 1h1m29 0h2m7 0h1m4 0h1m15 0h1m2 0h1m-62 1h1m9 0h1m45 0h1m-54 1h1m51 0h1m-1 1h1m-56 1h1m31 0h1m13 0h1m9 0h1m-58 3h1m39 0h1m7 0h1m-48 1h1m24 0h1m1 0h1m23 0h1" stroke="#777" stroke-width="1" fill="none"/><mask id="mkE" maskUnits="userSpaceOnUse" x="0" y="0" width="169" height="168"><g filter="url(#b3)"><polygon points="28,55 40,50 70,48 100,48 125,52 140,60 145,80 135,100 115,108 80,110 40,108 28,95" fill="#fff" fill-opacity="1"/></g><g filter="url(#b4)"><polygon points="55,108 100,110 115,125 110,150 95,166 55,166" fill="#fff" fill-opacity="0.9"/></g><g filter="url(#b3)"><polygon points="0,90 30,90 30,110 0,120" fill="#fff" fill-opacity="0.7"/></g></mask><rect width="169" height="168" fill="url(#chk)" mask="url(#mkE)"/><g filter="url(#b1)"><polygon points="3,166 3,127 11.5,117.5 21.5,111 31.5,105 41.5,101 54,99.5 61.5,101 68,106 73,114 74,122 71.5,130 64,137 58,141 52,148 50,166" fill="#000" fill-opacity="1"/></g><g filter="url(#mb3_1)"><ellipse cx="78" cy="69" rx="48" ry="8" fill="#000" fill-opacity="0.3"/></g><g filter="url(#mb3_2)"><ellipse cx="62" cy="148" rx="10" ry="18" fill="#000" fill-opacity="0.45"/></g><g filter="url(#mb3_0)"><ellipse cx="40" cy="95" rx="22" ry="6" fill="#000" fill-opacity="0.35"/></g><path d="M43 43.75h1.5m7.5 3h1.5m9.5 0h1.5m8.5 3h1.5m-28.5 1h1.5m54.5 0h1.5m6.5 0h1.5m-63.5 2h1.5m70.5 0h1.5m5.5 0h1.5m-94.5 1h1.5m17.5 0h1.5m34.5 0h1.5m20.5 0h1.5m-5.5 1h1.5m13.5 0h1.5m-2.5 1h1.5m6.5 0h1.5m-80.5 1h1.5m28.5 0h1.5m31.5 0h1.5m-71.5 1h1.5m76.5 0h1.5m-72.5 1h1.5m65.5 0h1.5m-71.5 1h1.5m32.5 0h1.5m2.5 0h1.5m15.5 0h1.5m25.5 0h1.5m-65.5 1h3.5m9.5 0h1.5m23.5 0h1.5m29.5 0h1.5m-104.5 1h1.5m6.5 0h1.5m8.5 0h1.5m0.5 0h1.5m13.5 0h1.5m19.5 0h1.5m8.5 0h1.5m7.5 0h1.5m10.5 0h1.5m4.5 0h1.5m-79.5 1h1.5m7.5 0h1.5m2.5 0h1.5m7.5 0h1.5m0.5 0h1.5m4.5 0h1.5m5.5 0h1.5m0.5 0h1.5m11.5 0h1.5m29.5 0h1.5m0.5 0h1.5m-86.5 1h1.5m10.5 0h2.5m13.5 0h1.5m2.5 0h1.5m0.5 0h1.5m4.5 0h1.5m20.5 0h1.5m3.5 0h1.5m-66.5 1h1.5m6.5 0h1.5m1.5 0h1.5m1.5 0h1.5m5.5 0h1.5m0.5 0h1.5m2.5 0h1.5m4.5 0h1.5m18.5 0h1.5m0.5 0h1.5m10.5 0h2.5m19.5 0h1.5m-102.5 1h3.5m7.5 0h1.5m10.5 0h1.5m6.5 0h1.5m4.5 0h1.5m4.5 0h1.5m10.5 0h1.5m0.5 0h1.5m11.5 0h2.5m6.5 0h1.5m-86.5 1h1.5m0.5 0h2.5m0.5 0h1.5m1.5 0h1.5m6.5 0h1.5m4.5 0h1.5m0.5 0h1.5m1.5 0h1.5m5.5 0h2.5m5.5 0h1.5m3.5 0h1.5m2.5 0h1.5m5.5 0h1.5m2.5 0h1.5m1.5 0h1.5m0.5 0h1.5m5.5 0h1.5m5.5 0h1.5m0.5 0h1.5m0.5 0h1.5m6.5 0h1.5m-90.5 1h1.5m14.5 0h2.5m1.5 0h1.5m8.5 0h1.5m6.5 0h2.5m1.5 0h1.5m1.5 0h1.5m3.5 0h2.5m7.5 0h1.5m9.5 0h1.5m7.5 0h1.5m0.5 0h1.5m1.5 0h1.5m24.5 0h1.5m-113.5 1h1.5m4.5 0h1.5m8.5 0h1.5m0.5 0h2.5m0.5 0h1.5m1.5 0h1.5m5.5 0h1.5m0.5 0h1.5m6.5 0h1.5m1.5 0h1.5m8.5 0h1.5m3.5 0h1.5m0.5 0h1.5m4.5 0h2.5m2.5 0h3.5m11.5 0h1.5m-79.5 1h3.5m10.5 0h1.5m0.5 0h1.5m24.5 0h2.5m0.5 0h1.5m2.5 0h1.5m4.5 0h1.5m4.5 0h3.5m1.5 0h1.5m6.5 0h1.5m2.5 0h1.5m-84.5 1h1.5m0.5 0h2.5m1.5 0h1.5m6.5 0h1.5m9.5 0h1.5m7.5 0h1.5m2.5 0h1.5m2.5 0h1.5m6.5 0h2.5m1.5 0h1.5m0.5 0h1.5m9.5 0h1.5m0.5 0h1.5m13.5 0h1.5m1.5 0h1.5m-78.5 1h1.5m2.5 0h2.5m1.5 0h1.5m6.5 0h1.5m4.5 0h3.5m1.5 0h1.5m5.5 0h3.5m0.5 0h3.5m3.5 0h2.5m1.5 0h1.5m1.5 0h1.5m4.5 0h1.5m16.5 0h1.5m0.5 0h1.5m5.5 0h1.5m-94.5 1h1.5m6.5 0h2.5m0.5 0h1.5m8.5 0h1.5m1.5 0h1.5m0.5 0h1.5m6.5 0h1.5m2.5 0h3.5m1.5 0h1.5m1.5 0h1.5m3.5 0h1.5m38.5 0h1.5m9.5 0h1.5m-91.5 1h1.5m21.5 0h1.5m12.5 0h1.5m-60.5 1h1.5m18.5 0h1.5m0.5 0h1.5m8.5 0h1.5m0.5 0h1.5m9.5 0h1.5m19.5 0h1.5m3.5 0h1.5m22.5 0h1.5m5.5 0h1.5m-76.5 1h1.5m9.5 0h1.5m14.5 0h1.5m30.5 0h1.5m5.5 0h1.5m-48.5 1h1.5m3.5 0h1.5m3.5 0h1.5m7.5 0h1.5m4.5 0h1.5m1.5 0h1.5m1.5 0h1.5m-49.5 1h1.5m27.5 0h1.5m-21.5 1h1.5m35.5 0h1.5m1.5 0h1.5m10.5 0h1.5m-58.5 1h1.5m6.5 0h1.5m43.5 0h1.5m30.5 0h1.5m-113.5 1h1.5m15.5 1h1.5m27.5 0h1.5m39.5 0h1.5m-96.5 1h1.5m29.5 0h1.5m48.5 0h1.5m8.5 0h1.5m18.5 0h1.5m-109.5 1h1.5m43.5 0h1.5m25.5 0h1.5m-60.5 1h1.5m76.5 0h1.5m-48.5 1h1.5m19.5 0h1.5m7.5 0h1.5m8.5 0h1.5m15.5 0h1.5m-75.5 1h1.5m42.5 0h2.5m-43.5 1h1.5m14.5 0h1.5m3.5 0h1.5m37.5 0h1.5m4.5 0h1.5m-7.5 1h1.5m-88.5 2h1.5m78.5 0h1.5m-68.5 1h1.5m16.5 0h1.5m32.5 0h1.5m-75.5 1h1.5m2.5 0h1.5m1.5 0h1.5m5.5 0h1.5m12.5 0h1.5m3.5 0h1.5m1.5 0h1.5m13.5 0h1.5m1.5 0h1.5m4.5 0h1.5m-65.5 1h2.5m1.5 0h1.5m5.5 0h2.5m13.5 0h1.5m2.5 0h2.5m25.5 0h1.5m41.5 0h1.5m-108.5 1h1.5m2.5 0h1.5m6.5 0h1.5m10.5 0h1.5m12.5 0h1.5m26.5 0h1.5m3.5 0h1.5m-70.5 1h1.5m29.5 0h1.5m-26.5 1h1.5m0.5 0h1.5m2.5 0h1.5m1.5 0h1.5m4.5 0h1.5m12.5 0h1.5m57.5 0h1.5m-96.5 1h1.5m2.5 0h1.5m32.5 0h1.5m2.5 0h1.5m1.5 0h1.5m37.5 0h1.5m0.5 0h1.5m-79.5 1h1.5m0.5 0h1.5m14.5 0h1.5m5.5 0h1.5m6.5 0h1.5m33.5 0h1.5m16.5 0h1.5m-108.5 1h1.5m28.5 0h1.5m5.5 0h1.5m8.5 0h1.5m13.5 0h1.5m21.5 0h1.5m9.5 0h1.5m20.5 0h1.5m-87.5 1h1.5m10.5 0h1.5m0.5 0h1.5m-28.5 1h1.5m21.5 0h1.5m62.5 0h1.5m-70.5 1h1.5m1.5 0h2.5m57.5 0h1.5m-95.5 1h1.5m30.5 0h1.5m0.5 0h1.5m1.5 0h1.5m37.5 0h1.5m-5.5 2h1.5m-73.5 2h1.5m48.5 0h1.5m-11.5 1h1.5m27.5 0h1.5m27.5 0h1.5m-54.5 1h1.5m-37.5 1h1.5m47.5 0h1.5m4.5 0h1.5m8.5 0h1.5m-4.5 1h1.5m-14.5 1h1.5m16.5 0h1.5m-79.5 1h1.5m72.5 1h1.5m2.5 0h1.5m-7.5 1h1.5m4.5 0h1.5m1.5 0h1.5m-28.5 1h1.5m14.5 0h1.5m5.5 0h1.5m-10.5 1h1.5m10.5 0h2.5m-7.5 1h1.5m-14.5 1h1.5m2.5 0h1.5m6.5 0h1.5m0.5 0h1.5m4.5 0h1.5m-87.5 1h1.5m76.5 0h1.5m12.5 0h1.5m-24.5 1h1.5m13.5 0h1.5m-22.5 1h1.5m1.5 0h1.5m4.5 0h1.5m-18.5 1h1.5m19.5 0h1.5m2.5 0h1.5m11.5 0h1.5m-18.5 1h2.5m-13.5 1h1.5m5.5 0h1.5m-20.5 1h1.5m2.5 0h1.5m17.5 0h1.5m11.5 0h1.5m1.5 0h1.5m14.5 1h1.5m-45.5 1h1.5m10.5 0h1.5m1.5 0h1.5m2.5 0h1.5m-28.5 1h1.5m16.5 0h1.5m0.5 0h1.5m12.5 0h1.5m-33.5 1h1.5m12.5 0h2.5m15.5 0h1.5m11.5 0h1.5m-46.5 1h1.5m30.5 0h1.5m14.5 0h1.5m-45.5 1h1.5m4.5 0h1.5m3.5 0h1.5m3.5 0h1.5m20.5 0h1.5m-44.5 1h2.5m10.5 0h1.5m-19.5 1h1.5m0.5 0h1.5m6.5 0h1.5m3.5 0h1.5m9.5 0h1.5m0.5 0h1.5m3.5 0h1.5m2.5 0h1.5m4.5 0h1.5m-35.5 1h1.5m7.5 0h1.5m2.5 0h1.5m28.5 0h1.5m-48.5 1h1.5m-6.5 1h1.5m0.5 0h2.5m1.5 0h1.5m0.5 0h2.5m10.5 0h1.5m10.5 0h1.5m6.5 0h1.5m-39.5 1h1.5m4.5 0h1.5m27.5 0h1.5m6.5 0h1.5m-51.5 1h1.5m10.5 0h1.5m15.5 0h1.5m10.5 0h1.5m-35.5 1h1.5m1.5 0h1.5m0.5 0h1.5m-3.5 1h1.5m10.5 0h1.5m15.5 0h1.5m-29.5 1h1.5m-12.5 1h1.5m1.5 0h1.5m0.5 0h1.5m1.5 0h2.5m-6.5 1h1.5m0.5 0h2.5m-0.5 1h1.5m1.5 0h1.5m-6.5 1h1.5m5.5 0h1.5m10.5 0h1.5m-22.5 1h1.5m8.5 0h2.5m22.5 0h1.5m-39.5 1h1.5m0.5 0h1.5m2.5 0h1.5m4.5 0h1.5m1.5 0h1.5m1.5 0h1.5m-19.5 1h1.5m9.5 0h2.5m2.5 0h1.5m-19.5 2h1.5m2.5 0h1.5m1.5 0h1.5m-8.5 1h1.5m1.5 0h1.5m3.5 0h1.5m-3.5 1h1.5m1.5 0h1.5m-5.5 1h1.5m1.5 0h1.5m0.5 0h4.5m0.5 0h1.5m29.5 0h1.5m7.5 0h1.5m-45.5 1h2.5m20.5 0h1.5m-34.5 1h1.5m4.5 0h1.5m1.5 0h2.5m2.5 0h1.5m41.5 0h1.5m-52.5 1h1.5m0.5 0h1.5m0.5 0h1.5m26.5 0h1.5m-39.5 1h2.5m1.5 0h1.5m0.5 0h1.5m0.5 0h1.5m13.5 0h1.5m10.5 0h1.5m11.5 0h1.5m-40.5 1h1.5m5.5 0h1.5m-13.5 1h1.5m2.5 0h2.5m20.5 0h1.5m-17.5 1h1.5m-7.5 1h1.5m0.5 0h1.5m-4.5 1h1.5m0.5 0h1.5m0.5 0h1.5m0.5 0h1.5m-11.5 1h1.5m4.5 3h1.5" stroke="#0a0a0a" stroke-width="1.5" fill="none"/></g></g>
<g transform="translate(279 545)"><clipPath id="cpF"><rect x="1" y="1" width="168" height="166"/></clipPath><g clip-path="url(#cpF)"><path d="M70 79.5h1m25 0h1m-72 1h1m20 0h1m16 0h1m4 0h1m8 0h1m-69 1h1m4 0h1m8 0h1m16 0h1m16 0h1m23 0h1m19 0h1m-79 1h1m46 0h1m21 0h1m17 0h1m-92 1h1m5 0h1m8 0h1m4 0h1m21 0h1m29 0h1m-80 1h1m7 0h1m28 0h1m18 0h1m20 0h1m2 0h1m-84 1h2m24 0h1m51 0h1m12 0h1m12 0h1m-81 1h1m22 0h1m1 0h1m-22 1h1m10 0h1m8 0h1m1 0h1m1 0h1m6 0h1m19 0h1m20 0h1m-106 1h1m43 0h1m2 0h1m6 0h1m7 0h1m14 0h1m-76 1h1m6 0h1m6 0h1m20 0h1m2 0h1m2 0h1m7 0h1m4 0h1m22 0h1m3 0h1m-58 1h1m43 0h1m4 0h1m10 0h1m2 0h1m2 0h1m8 0h1m2 0h1m-100 1h1m21 0h1m25 0h1m8 0h2m24 0h1m-79 1h1m2 0h1m28 0h1m-33 1h1m3 0h1m10 0h1m1 0h1m15 0h1m1 0h1m11 0h1m3 0h1m21 0h1m10 0h1m-85 1h2m5 0h1m5 0h1m11 0h1m1 0h1m12 0h2m3 0h1m4 0h1m1 0h1m11 0h1m16 0h1m-96 1h1m46 0h1m14 0h1m8 0h1m10 0h1m3 0h1m7 0h1m4 0h1m-91 1h1m21 0h1m2 0h2m4 0h1m4 0h1m19 0h2m2 0h1m2 0h1m6 0h1m5 0h1m12 0h1m9 0h1m-47 1h1m7 0h1m27 0h1m13 0h1m1 0h1m-112 1h1m1 0h1m1 0h1m13 0h1m12 0h1m1 0h1m9 0h2m1 0h1m-43 1h1m7 0h1m8 0h1m7 0h2m19 0h2m11 0h1m1 0h1m4 0h1m6 0h1m4 0h1m17 0h1m10 0h1m-113 1h1m5 0h1m17 0h1m8 0h1m1 0h1m16 0h1m1 0h1m4 0h1m1 0h1m18 0h1m10 0h1m2 0h1m12 0h1m5 0h1m-104 1h1m5 0h1m2 0h1m16 0h1m9 0h1m19 0h1m11 0h1m20 0h1m2 0h1m-93 1h1m3 0h1m3 0h1m7 0h2m25 0h1m11 0h1m6 0h1m4 0h1m8 0h1m2 0h1m-63 1h1m7 0h1m14 0h1m20 0h2m19 0h1m1 0h1m3 0h1m-86 1h1m14 0h1m4 0h1m18 0h1m16 0h1m4 0h1m1 0h1m7 0h1m6 0h1m14 0h1m4 0h1m-112 1h1m1 0h2m5 0h1m17 0h1m3 0h1m2 0h1m13 0h1m5 0h1m38 0h1m22 0h1m-91 1h1m4 0h1m18 0h1m11 0h1m2 0h1m-48 1h1m18 0h1m16 0h1m9 0h1m24 0h1m3 0h1m8 0h1m-88 1h1m3 0h1m4 0h1m31 0h1m24 0h1m2 0h1m3 0h1m23 0h1m-106 1h1m3 0h2m3 0h1m34 0h1m2 0h1m34 0h2m-76 1h1m3 0h1m14 0h1m30 0h1m24 0h1m8 0h1m8 0h1m-105 1h1m4 0h1m5 0h2m13 0h1m3 0h1m2 0h2m22 0h1m21 0h1m19 0h1m16 0h1m-114 1h1m2 0h1m6 0h1m10 0h1m4 0h1m6 0h3m16 0h1m9 0h1m8 0h1m6 0h1m8 0h1m11 0h1m-106 1h1m9 0h1m3 0h1m18 0h1m2 0h1m12 0h1m2 0h1m31 0h1m-76 1h1m7 0h1m1 0h1m9 0h1m60 0h1m22 0h1m-107 1h2m3 0h1m14 0h1m45 0h1m7 0h1m2 0h1m11 0h1m-93 1h1m12 0h1m8 0h1m12 0h2m6 0h1m25 0h1m8 0h1m1 0h1m25 0h1m5 0h1m-81 1h1m1 0h1m8 0h1m2 0h1m4 0h1m9 0h1m-63 1h1m5 0h1m7 0h1m6 0h1m11 0h1m7 0h3m6 0h1m15 0h1m14 0h1m20 0h1m2 0h1m-86 1h1m2 0h1m1 0h1m4 0h2m13 0h1m4 0h2m15 0h1m30 0h2m1 0h1m1 0h1m-71 1h1m1 0h1m32 0h1m2 0h1m3 0h1m1 0h1m6 0h3m-81 1h1m3 0h1m2 0h1m21 0h1m12 0h1m9 0h1m2 0h1m8 0h1m15 0h2m10 0h1m-104 1h1m18 0h2m9 0h1m3 0h1m18 0h1m13 0h1m4 0h1m26 0h1m-47 1h1m26 0h1m-68 1h1m4 0h2m2 0h1m15 0h1m9 0h1m24 0h1m10 0h1m3 0h2m18 0h1m-100 1h1m27 0h1m8 0h1m6 0h1m30 0h1m21 0h1m-108 1h1m10 0h1m3 0h1m1 0h1m12 0h1m4 0h1m5 0h1m2 0h1m13 0h1m1 0h1m5 0h1m10 0h1m28 0h1m5 0h1m2 0h1m-110 1h1m14 0h1m24 0h1m3 0h2m2 0h1m7 0h1m3 0h1m18 0h1m13 0h1m4 0h1m-103 1h1m2 0h1m1 0h1m10 0h1m9 0h1m5 0h1m15 0h1m11 0h1m5 0h3m4 0h1m4 0h1m15 0h1m10 0h1m-102 1h1m24 0h1m6 0h1m4 0h1m12 0h1m38 0h1m6 0h1m15 0h1m-114 1h1m4 0h2m2 0h1m5 0h1m8 0h1m1 0h1m7 0h1m36 0h1m15 0h2m10 0h1m12 0h1m2 0h1m-118 1h1m7 0h1m1 0h1m14 0h1m29 0h1m12 0h1m4 0h1m4 0h1m28 0h1m2 0h1m-106 1h2m5 0h1m10 0h1m5 0h1m6 0h1m8 0h1m14 0h1m11 0h1m9 0h1m18 0h1m5 0h1m-105 1h1m10 0h1m63 0h1m2 0h1m-68 1h1m11 0h1m24 0h1m7 0h1m4 0h1m27 0h1m3 0h1m2 0h1m3 0h1m5 0h1m-103 1h1m69 0h1m16 0h2m1 0h1m-95 1h1m3 0h1m1 0h1m3 0h1m13 0h1m10 0h1m13 0h1m5 0h1m14 0h1m7 0h1m-85 1h1m5 0h1m1 0h1m9 0h1m37 0h1m17 0h1m5 0h1m2 0h1m25 0h1m-89 1h1m22 0h1m19 0h1m16 0h1m5 0h1m9 0h1m1 0h1m1 0h1m6 0h1m-55 1h1m7 0h1m21 0h1m2 0h1m14 0h1m9 0h2m-110 1h1m13 0h1m10 0h2m10 0h1m5 0h1m5 0h1m1 0h1m21 0h1m8 0h1m-73 1h1m3 0h1m21 0h1m10 0h1m11 0h1m21 0h1m24 0h1m1 0h1m-84 1h1m3 0h1m1 0h2m2 0h1m14 0h2m6 0h1m1 0h1m8 0h1m1 0h1m5 0h1m16 0h1m3 0h1m-88 1h1m5 0h1m20 0h1m34 0h1m12 0h1m5 0h1m2 0h1m6 0h1m-104 1h1m12 0h1m26 0h1m3 0h1m24 0h1m4 0h1m7 0h2m3 0h1m8 0h2m2 0h1m6 0h1m-105 1h1m16 0h1m6 0h1m5 0h1m9 0h1m1 0h1m6 0h1m24 0h1m8 0h1m7 0h1m-90 1h1m19 0h1m3 0h1m11 0h1m5 0h1m2 0h1m10 0h1m39 0h1m2 0h1m-92 1h1m5 0h1m2 0h1m3 0h1m5 0h1m4 0h1m49 0h1m11 0h1m-93 1h1m7 0h1m10 0h1m12 0h1m2 0h1m13 0h1m3 0h1m9 0h1m18 0h1m7 0h1m-65 1h1m21 0h1m2 0h1m15 0h1m11 0h1m-70 1h1m24 0h1m2 0h1m6 0h1m8 0h1m10 0h1m3 0h1m4 0h1m7 0h1m1 0h1m3 0h1m-96 1h1m2 0h1m10 0h1m1 0h1m14 0h1m17 0h1m2 0h1m7 0h1m21 0h1m16 0h1m-66 1h1m3 0h1m8 0h1m9 0h1m20 0h3m21 0h1m-97 1h1m11 0h1m13 0h1m1 0h1m20 0h1m11 0h2m19 0h1m1 0h1m10 0h1m4 0h1m-94 1h1m7 0h1m4 0h1m23 0h1m3 0h2m2 0h1m25 0h1m5 0h1m11 0h1m-95 1h1m12 0h1m20 0h1m13 0h1m7 0h1m4 0h2m4 0h1m16 0h1m-74 1h1m4 0h1m1 0h1m18 0h1m7 0h1m3 0h1m15 0h1m21 0h1m17 0h1m-101 1h1m22 0h1m7 0h1m2 0h1m10 0h1m12 0h1m3 0h1m2 0h1m18 0h1m-99 1h1m5 0h1m2 0h2m24 0h1m5 0h1m10 0h1m10 0h1m5 0h1m8 0h1m12 0h1m-84 1h1m8 0h1m44 0h1m5 0h1m3 0h1m26 0h1m-58 1h1m4 0h1m1 0h1m6 0h1m22 0h1m-65 1h1m28 0h1m2 0h1m30 0h1m13 0h2m-81 1h1m6 0h1m55 0h1m-51 1h1m61 0h1m8 0h1m-46 1h1m7 0h1m-51 1h1m88 0h1m-71 1h2m5 0h1m5 0h1m15 0h1m5 0h1m24 0h2m-64 1h1m41 0h1" stroke="#777" stroke-width="1" fill="none"/><mask id="mkF" maskUnits="userSpaceOnUse" x="0" y="0" width="170" height="168"><g filter="url(#b3)"><polygon points="2,90 40,87 80,87 100,89 110,97 110,127 100,150 90,160 46,160 46,127 2,127" fill="#fff" fill-opacity="1"/></g></mask><rect width="170" height="168" fill="url(#chk)" mask="url(#mkF)"/><g filter="url(#b1_2)"><polygon points="7,104 44,103 46,125 45,166 7,166" fill="#000" fill-opacity="1"/></g><g filter="url(#mb1_5_1)"><polygon points="3,97 8,97 8,166 3,166" fill="#000" fill-opacity="0.75"/></g><g filter="url(#mb2_5_2)"><polygon points="3,92 46,91 46,106 3,106" fill="#000" fill-opacity="0.8"/></g><g filter="url(#mb2_5_0)"><polygon points="44,93 70,91 88,93 96,100 96,118 90,124 60,125 44,125" fill="#000" fill-opacity="0.85"/></g><path d="M27 81.75h1.5m14.5 1h1.5m19.5 0h1.5m-27.5 1h1.5m10.5 0h1.5m9.5 0h1.5m-57.5 1h1.5m24.5 0h1.5m10.5 0h1.5m4.5 0h1.5m-41.5 1h1.5m10.5 0h1.5m54.5 0h2.5m0.5 0h1.5m2.5 0h1.5m2.5 0h1.5m-77.5 1h1.5m31.5 0h1.5m13.5 0h1.5m13.5 0h1.5m9.5 0h1.5m-66.5 1h1.5m0.5 0h2.5m10.5 0h2.5m5.5 0h1.5m19.5 0h1.5m12.5 0h1.5m-72.5 1h1.5m8.5 0h1.5m31.5 0h1.5m7.5 0h1.5m6.5 0h1.5m13.5 0h1.5m-71.5 1h1.5m27.5 0h1.5m33.5 0h1.5m3.5 0h1.5m-65.5 1h1.5m10.5 0h2.5m5.5 0h1.5m1.5 0h1.5m4.5 0h1.5m7.5 0h1.5m14.5 0h1.5m16.5 0h1.5m-82.5 1h1.5m4.5 0h1.5m29.5 0h1.5m7.5 0h1.5m9.5 0h1.5m1.5 0h1.5m0.5 0h1.5m7.5 0h1.5m0.5 0h1.5m-77.5 1h2.5m0.5 0h1.5m12.5 0h1.5m2.5 0h1.5m12.5 0h2.5m12.5 0h1.5m1.5 0h1.5m2.5 0h1.5m3.5 0h1.5m0.5 0h1.5m4.5 0h1.5m4.5 0h2.5m-56.5 1h1.5m6.5 0h1.5m8.5 0h1.5m6.5 0h1.5m4.5 0h1.5m3.5 0h1.5m1.5 0h1.5m0.5 0h1.5m4.5 0h1.5m14.5 0h1.5m-90.5 1h1.5m24.5 0h1.5m0.5 0h1.5m6.5 0h1.5m0.5 0h1.5m2.5 0h1.5m3.5 0h1.5m3.5 0h1.5m9.5 0h2.5m6.5 0h2.5m1.5 0h1.5m2.5 0h1.5m-39.5 1h1.5m18.5 0h2.5m1.5 0h1.5m7.5 0h1.5m7.5 0h1.5m1.5 0h1.5m-83.5 1h1.5m12.5 0h1.5m25.5 0h1.5m0.5 0h2.5m25.5 0h1.5m-67.5 1h1.5m7.5 0h1.5m16.5 0h1.5m12.5 0h1.5m1.5 0h1.5m1.5 0h1.5m9.5 0h1.5m5.5 0h2.5m-42.5 1h1.5m9.5 0h1.5m40.5 0h1.5m20.5 0h1.5m-110.5 1h1.5m6.5 0h1.5m28.5 0h1.5m15.5 0h1.5m7.5 0h2.5m12.5 0h1.5m-72.5 1h1.5m6.5 0h1.5m15.5 0h1.5m20.5 0h1.5m2.5 0h1.5m3.5 0h1.5m2.5 0h1.5m7.5 0h2.5m0.5 0h1.5m-30.5 1h1.5m12.5 0h2.5m14.5 0h2.5m-74.5 1h1.5m45.5 0h1.5m6.5 0h1.5m12.5 0h1.5m4.5 0h1.5m-76.5 1h1.5m26.5 0h1.5m11.5 0h1.5m2.5 0h1.5m5.5 0h1.5m5.5 0h1.5m6.5 0h1.5m6.5 0h1.5m-85.5 1h1.5m39.5 0h1.5m1.5 0h2.5m7.5 0h1.5m12.5 0h1.5m4.5 0h1.5m3.5 0h1.5m12.5 0h1.5m5.5 0h1.5m-62.5 1h1.5m9.5 0h1.5m1.5 0h1.5m9.5 0h1.5m13.5 0h1.5m1.5 0h1.5m-64.5 1h1.5m9.5 0h1.5m17.5 0h1.5m8.5 0h2.5m9.5 0h1.5m11.5 0h1.5m-52.5 1h1.5m1.5 0h1.5m8.5 0h1.5m1.5 0h1.5m1.5 0h1.5m5.5 0h1.5m0.5 0h1.5m14.5 0h1.5m4.5 0h1.5m7.5 0h1.5m1.5 0h1.5m-57.5 1h1.5m3.5 0h1.5m12.5 0h1.5m2.5 0h1.5m4.5 0h1.5m0.5 0h2.5m9.5 0h1.5m5.5 0h1.5m0.5 0h1.5m10.5 0h1.5m-64.5 1h1.5m15.5 0h1.5m2.5 0h2.5m10.5 0h1.5m11.5 0h1.5m1.5 0h1.5m-49.5 1h1.5m0.5 0h1.5m2.5 0h1.5m0.5 0h1.5m1.5 0h2.5m13.5 0h1.5m12.5 0h1.5m-31.5 1h1.5m9.5 0h1.5m18.5 0h2.5m16.5 0h1.5m-90.5 1h1.5m9.5 0h1.5m2.5 0h1.5m0.5 0h1.5m11.5 0h1.5m0.5 0h1.5m9.5 0h2.5m0.5 0h1.5m5.5 0h1.5m7.5 0h1.5m1.5 0h1.5m6.5 0h1.5m-63.5 1h1.5m25.5 0h1.5m3.5 0h1.5m5.5 0h1.5m11.5 0h1.5m5.5 0h1.5m7.5 0h1.5m3.5 0h1.5m-54.5 1h1.5m1.5 0h1.5m6.5 0h1.5m2.5 0h1.5m1.5 0h1.5m10.5 0h2.5m7.5 0h1.5m0.5 0h1.5m-84.5 1h1.5m34.5 0h1.5m0.5 0h1.5m3.5 0h1.5m12.5 0h1.5m31.5 0h1.5m4.5 0h1.5m-86.5 1h1.5m33.5 0h1.5m1.5 0h1.5m4.5 0h1.5m6.5 0h1.5m0.5 0h1.5m1.5 0h1.5m1.5 0h1.5m3.5 0h1.5m15.5 0h1.5m-66.5 1h1.5m16.5 0h1.5m5.5 0h1.5m5.5 0h1.5m1.5 0h1.5m7.5 0h1.5m7.5 0h1.5m-83.5 1h1.5m1.5 0h1.5m6.5 0h1.5m21.5 0h1.5m9.5 0h1.5m10.5 0h2.5m10.5 0h1.5m7.5 0h1.5m11.5 0h1.5m-52.5 1h1.5m2.5 0h1.5m2.5 0h2.5m10.5 0h1.5m1.5 0h2.5m2.5 0h1.5m2.5 0h1.5m-61.5 1h1.5m22.5 0h1.5m20.5 0h1.5m11.5 0h3.5m1.5 0h1.5m-54.5 1h1.5m14.5 0h1.5m7.5 0h1.5m1.5 0h1.5m2.5 0h1.5m1.5 0h1.5m3.5 0h1.5m8.5 0h1.5m-56.5 1h1.5m6.5 0h1.5m43.5 0h1.5m0.5 0h1.5m-52.5 1h1.5m5.5 0h1.5m20.5 0h1.5m16.5 0h1.5m-51.5 1h1.5m9.5 0h1.5m20.5 0h1.5m3.5 0h1.5m-45.5 1h1.5m4.5 0h1.5m31.5 0h1.5m0.5 0h1.5m44.5 0h1.5m-55.5 1h1.5m4.5 0h1.5m4.5 0h1.5m24.5 0h1.5m-45.5 1h1.5m21.5 0h1.5m-22.5 1h1.5m3.5 0h1.5m7.5 0h1.5m1.5 0h1.5m7.5 0h1.5m3.5 0h1.5m-45.5 1h1.5m3.5 0h1.5m6.5 0h1.5m1.5 0h2.5m9.5 0h1.5m-3.5 1h2.5m7.5 0h1.5m-31.5 1h1.5m3.5 0h2.5m23.5 0h1.5m5.5 0h1.5m-49.5 1h1.5m22.5 0h1.5m-18.5 1h1.5m1.5 0h1.5m24.5 1h1.5m-16.5 1h1.5m4.5 0h1.5m13.5 0h1.5m-37.5 1h1.5m12.5 0h1.5m25.5 0h1.5m15.5 0h1.5m-57.5 1h1.5m4.5 0h1.5m18.5 0h1.5m-14.5 1h1.5m22.5 0h1.5m-14.5 1h1.5m-10.5 1h1.5m3.5 0h1.5m17.5 0h1.5m0.5 0h2.5m4.5 0h1.5m1.5 0h1.5m-44.5 1h1.5m14.5 0h1.5m5.5 0h1.5m23.5 0h1.5m-1.5 1h1.5m-43.5 1h1.5m30.5 1h1.5m2.5 0h1.5m-2.5 1h1.5m-52.5 1h1.5m12.5 0h1.5m2.5 1h1.5m8.5 2h1.5m-17.5 2h1.5m5.5 0h1.5m10.5 0h1.5m-19.5 2h1.5m6.5 0h1.5m31.5 2h1.5m-46.5 1h1.5m26.5 0h1.5m-34.5 3h1.5" stroke="#0a0a0a" stroke-width="1.5" fill="none"/></g></g>
<g transform="translate(124 125.9) rotate(-0.3) translate(-84.5 -84.25)">

<path d="M42.5 0V168.5M0 126.8H169" stroke="#111" stroke-width="1.6" fill="none"/>
<rect x="0" y="0" width="169" height="168.5" fill="none" stroke="#111" stroke-width="1.5"/>
<path d="M0 168.5v5.6M0 168.5h-5.6M12.72 168.5v5.6M0 155.82h-5.6M20.16 168.5v5.6M0 148.4h-5.6M25.44 168.5v5.6M0 143.14h-5.6M29.53 168.5v5.6M0 139.06h-5.6M32.88 168.5v5.6M0 135.72h-5.6M35.71 168.5v5.6M0 132.9h-5.6M38.16 168.5v5.6M0 130.46h-5.6M40.32 168.5v5.6M0 128.3h-5.6M42.25 168.5v5.6M0 126.38h-5.6M54.97 168.5v5.6M0 113.69h-5.6M62.41 168.5v5.6M0 106.28h-5.6M67.69 168.5v5.6M0 101.01h-5.6M71.78 168.5v5.6M0 96.93h-5.6M75.13 168.5v5.6M0 93.6h-5.6M77.96 168.5v5.6M0 90.78h-5.6M80.41 168.5v5.6M0 88.33h-5.6M82.57 168.5v5.6M0 86.18h-5.6M84.5 168.5v5.6M0 84.25h-5.6M97.22 168.5v5.6M0 71.57h-5.6M104.66 168.5v5.6M0 64.15h-5.6M109.94 168.5v5.6M0 58.89h-5.6M114.03 168.5v5.6M0 54.81h-5.6M117.38 168.5v5.6M0 51.47h-5.6M120.21 168.5v5.6M0 48.65h-5.6M122.66 168.5v5.6M0 46.21h-5.6M124.82 168.5v5.6M0 44.05h-5.6M126.75 168.5v5.6M0 42.12h-5.6M139.47 168.5v5.6M0 29.44h-5.6M146.91 168.5v5.6M0 22.03h-5.6M152.19 168.5v5.6M0 16.76h-5.6M156.28 168.5v5.6M0 12.68h-5.6M159.63 168.5v5.6M0 9.35h-5.6M162.46 168.5v5.6M0 6.53h-5.6M164.91 168.5v5.6M0 4.08h-5.6M167.07 168.5v5.6M0 1.93h-5.6M169 168.5v5.6M0 0h-5.6" stroke="#111" stroke-width="1.3" fill="none"/>
<text x="-4.5" y="188.5" style="font-family:'Liberation Mono',monospace;font-weight:bold;font-size:12px;letter-spacing:1.5px;stroke:#111;stroke-width:0.45px" fill="#111">.1</text>
<text x="170.4" y="188.5" style="font-family:'Liberation Mono',monospace;font-weight:bold;font-size:12px;letter-spacing:1.5px;stroke:#111;stroke-width:0.45px" fill="#111" text-anchor="end">1000</text>
<text x="83.2" y="199" style="font-family:'Liberation Mono',monospace;font-weight:bold;font-size:12px;letter-spacing:1.5px;stroke:#111;stroke-width:0.45px" fill="#111" text-anchor="middle">GFP</text>
<g transform="rotate(-90)">
<text x="-174" y="-9" style="font-family:'Liberation Mono',monospace;font-weight:bold;font-size:12px;letter-spacing:1.5px;stroke:#111;stroke-width:0.45px" fill="#111">.1</text>
<text x="-1" y="-9" style="font-family:'Liberation Mono',monospace;font-weight:bold;font-size:12px;letter-spacing:1.5px;stroke:#111;stroke-width:0.45px" fill="#111" text-anchor="end">1000</text>
<text x="-84.25" y="-19.5" style="font-family:'Liberation Mono',monospace;font-weight:bold;font-size:12px;letter-spacing:1.5px;stroke:#111;stroke-width:0.45px" fill="#111" text-anchor="middle">CD41a-PE</text>
</g>
</g>
<text x="45.25" y="64.2" style="font-family:'Liberation Serif',serif;font-weight:bold;font-size:15.5px" fill="#111">21%</text>
<text x="172.65" y="62.3" style="font-family:'Liberation Serif',serif;font-weight:bold;font-size:15.5px" fill="#111">58%</text>
<text x="177" y="187.8" style="font-family:'Liberation Serif',serif;font-weight:bold;font-size:15.5px" fill="#111">5%</text>
<text x="92.7" y="161.3" style="font-family:'Liberation Mono',monospace;font-weight:bold;font-size:11.5px;stroke:#111;stroke-width:0.4px" fill="#111">S</text>
<rect x="70.8" y="176.5" width="9" height="10" fill="#fff" fill-opacity="0.85"/>
<text x="72" y="185.4" style="font-family:'Liberation Mono',monospace;font-weight:bold;font-size:11.5px;stroke:#111;stroke-width:0.4px" fill="#111">3</text>
<text x="0.7" y="16" transform="rotate(0 0.7 16)" style="font-family:'Liberation Sans',sans-serif;font-weight:bold;stroke:#111;stroke-width:0.25px;font-size:16px" fill="#111">A. Megakaryocytes (CD41a<tspan dy="-3" style="font-size:14px">+</tspan><tspan dy="3">)</tspan></text>
<g transform="translate(361.65 125.78) rotate(-0.25) translate(-84.55 -84.22)">

<path d="M42.4 0V168.45M0 125.9H169.1" stroke="#111" stroke-width="1.6" fill="none"/>
<rect x="0" y="0" width="169.1" height="168.45" fill="none" stroke="#111" stroke-width="1.5"/>
<path d="M0 168.45v5.6M0 168.45h-5.6M12.73 168.45v5.6M0 155.77h-5.6M20.17 168.45v5.6M0 148.36h-5.6M25.45 168.45v5.6M0 143.1h-5.6M29.55 168.45v5.6M0 139.01h-5.6M32.9 168.45v5.6M0 135.68h-5.6M35.73 168.45v5.6M0 132.86h-5.6M38.18 168.45v5.6M0 130.42h-5.6M40.34 168.45v5.6M0 128.26h-5.6M42.27 168.45v5.6M0 126.34h-5.6M55 168.45v5.6M0 113.66h-5.6M62.45 168.45v5.6M0 106.24h-5.6M67.73 168.45v5.6M0 100.98h-5.6M71.82 168.45v5.6M0 96.9h-5.6M75.17 168.45v5.6M0 93.57h-5.6M78 168.45v5.6M0 90.75h-5.6M80.45 168.45v5.6M0 88.31h-5.6M82.62 168.45v5.6M0 86.15h-5.6M84.55 168.45v5.6M0 84.22h-5.6M97.28 168.45v5.6M0 71.55h-5.6M104.72 168.45v5.6M0 64.13h-5.6M110 168.45v5.6M0 58.87h-5.6M114.1 168.45v5.6M0 54.79h-5.6M117.45 168.45v5.6M0 51.46h-5.6M120.28 168.45v5.6M0 48.64h-5.6M122.73 168.45v5.6M0 46.19h-5.6M124.89 168.45v5.6M0 44.04h-5.6M126.82 168.45v5.6M0 42.11h-5.6M139.55 168.45v5.6M0 29.44h-5.6M147 168.45v5.6M0 22.02h-5.6M152.28 168.45v5.6M0 16.76h-5.6M156.37 168.45v5.6M0 12.68h-5.6M159.72 168.45v5.6M0 9.34h-5.6M162.55 168.45v5.6M0 6.52h-5.6M165 168.45v5.6M0 4.08h-5.6M167.17 168.45v5.6M0 1.93h-5.6M169.1 168.45v5.6M0 0h-5.6" stroke="#111" stroke-width="1.3" fill="none"/>
<text x="-4.5" y="188.45" style="font-family:'Liberation Mono',monospace;font-weight:bold;font-size:12px;letter-spacing:1.5px;stroke:#111;stroke-width:0.45px" fill="#111">.1</text>
<text x="170.5" y="188.45" style="font-family:'Liberation Mono',monospace;font-weight:bold;font-size:12px;letter-spacing:1.5px;stroke:#111;stroke-width:0.45px" fill="#111" text-anchor="end">1000</text>
<text x="83.25" y="198.95" style="font-family:'Liberation Mono',monospace;font-weight:bold;font-size:12px;letter-spacing:1.5px;stroke:#111;stroke-width:0.45px" fill="#111" text-anchor="middle">GFP</text>
<g transform="rotate(-90)">
<text x="-173.95" y="-9" style="font-family:'Liberation Mono',monospace;font-weight:bold;font-size:12px;letter-spacing:1.5px;stroke:#111;stroke-width:0.45px" fill="#111">.1</text>
<text x="-1" y="-9" style="font-family:'Liberation Mono',monospace;font-weight:bold;font-size:12px;letter-spacing:1.5px;stroke:#111;stroke-width:0.45px" fill="#111" text-anchor="end">1000</text>
<text x="-84.22" y="-19.5" style="font-family:'Liberation Mono',monospace;font-weight:bold;font-size:12px;letter-spacing:1.5px;stroke:#111;stroke-width:0.45px" fill="#111" text-anchor="middle">CD42b-PE</text>
</g>
</g>
<text x="290.35" y="62.3" style="font-family:'Liberation Serif',serif;font-weight:bold;font-size:15.5px" fill="#111">9%</text>
<text x="412.2" y="65.7" style="font-family:'Liberation Serif',serif;font-weight:bold;font-size:15.5px" fill="#111">31%</text>
<text x="412.2" y="190.2" style="font-family:'Liberation Serif',serif;font-weight:bold;font-size:15.5px" fill="#111">23%</text>
<rect x="329.6" y="151.5" width="8" height="9.5" fill="#fff" fill-opacity="0.6"/>
<text x="330.8" y="160" style="font-family:'Liberation Mono',monospace;font-weight:bold;font-size:11.5px;stroke:#111;stroke-width:0.4px" fill="#111">S</text>
<rect x="308.8" y="175.5" width="8.6" height="9.5" fill="#fff" fill-opacity="0.85"/>
<text x="310" y="183.8" style="font-family:'Liberation Mono',monospace;font-weight:bold;font-size:11.5px;stroke:#111;stroke-width:0.4px" fill="#111">3</text>
<text x="239.5" y="15" transform="rotate(-0.25 239.5 15)" style="font-family:'Liberation Sans',sans-serif;font-weight:bold;stroke:#111;stroke-width:0.25px;font-size:16px" fill="#111">B. Megakaryocytes (CD42b<tspan dy="-3" style="font-size:14px">+</tspan><tspan dy="3">)</tspan></text>
<g transform="translate(127.4 375) rotate(0) translate(-84.5 -83.88)">

<path d="M42.6 0V167.75M0 125.8H169" stroke="#111" stroke-width="1.6" fill="none"/>
<rect x="0" y="0" width="169" height="167.75" fill="none" stroke="#111" stroke-width="1.5"/>
<path d="M0 167.75v5.6M0 167.75h-5.6M12.72 167.75v5.6M0 155.13h-5.6M20.16 167.75v5.6M0 147.74h-5.6M25.44 167.75v5.6M0 142.5h-5.6M29.53 167.75v5.6M0 138.44h-5.6M32.88 167.75v5.6M0 135.12h-5.6M35.71 167.75v5.6M0 132.31h-5.6M38.16 167.75v5.6M0 129.88h-5.6M40.32 167.75v5.6M0 127.73h-5.6M42.25 167.75v5.6M0 125.81h-5.6M54.97 167.75v5.6M0 113.19h-5.6M62.41 167.75v5.6M0 105.8h-5.6M67.69 167.75v5.6M0 100.56h-5.6M71.78 167.75v5.6M0 96.5h-5.6M75.13 167.75v5.6M0 93.18h-5.6M77.96 167.75v5.6M0 90.37h-5.6M80.41 167.75v5.6M0 87.94h-5.6M82.57 167.75v5.6M0 85.79h-5.6M84.5 167.75v5.6M0 83.88h-5.6M97.22 167.75v5.6M0 71.25h-5.6M104.66 167.75v5.6M0 63.87h-5.6M109.94 167.75v5.6M0 58.63h-5.6M114.03 167.75v5.6M0 54.56h-5.6M117.38 167.75v5.6M0 51.24h-5.6M120.21 167.75v5.6M0 48.43h-5.6M122.66 167.75v5.6M0 46h-5.6M124.82 167.75v5.6M0 43.86h-5.6M126.75 167.75v5.6M0 41.94h-5.6M139.47 167.75v5.6M0 29.31h-5.6M146.91 167.75v5.6M0 21.93h-5.6M152.19 167.75v5.6M0 16.69h-5.6M156.28 167.75v5.6M0 12.62h-5.6M159.63 167.75v5.6M0 9.3h-5.6M162.46 167.75v5.6M0 6.5h-5.6M164.91 167.75v5.6M0 4.06h-5.6M167.07 167.75v5.6M0 1.92h-5.6M169 167.75v5.6M0 0h-5.6" stroke="#111" stroke-width="1.3" fill="none"/>
<text x="-4.5" y="187.75" style="font-family:'Liberation Mono',monospace;font-weight:bold;font-size:12px;letter-spacing:1.5px;stroke:#111;stroke-width:0.45px" fill="#111">.1</text>
<text x="170.4" y="187.75" style="font-family:'Liberation Mono',monospace;font-weight:bold;font-size:12px;letter-spacing:1.5px;stroke:#111;stroke-width:0.45px" fill="#111" text-anchor="end">1000</text>
<text x="83.2" y="198.25" style="font-family:'Liberation Mono',monospace;font-weight:bold;font-size:12px;letter-spacing:1.5px;stroke:#111;stroke-width:0.45px" fill="#111" text-anchor="middle">GFP</text>
<g transform="rotate(-90)">
<text x="-173.25" y="-9" style="font-family:'Liberation Mono',monospace;font-weight:bold;font-size:12px;letter-spacing:1.5px;stroke:#111;stroke-width:0.45px" fill="#111">.1</text>
<text x="-1" y="-9" style="font-family:'Liberation Mono',monospace;font-weight:bold;font-size:12px;letter-spacing:1.5px;stroke:#111;stroke-width:0.45px" fill="#111" text-anchor="end">1000</text>
<text x="-83.88" y="-19.5" style="font-family:'Liberation Mono',monospace;font-weight:bold;font-size:12px;letter-spacing:1.5px;stroke:#111;stroke-width:0.45px" fill="#111" text-anchor="middle">CD14-PE</text>
</g>
</g>
<text x="50.9" y="313.3" style="font-family:'Liberation Serif',serif;font-weight:bold;font-size:15.5px" fill="#111">52%</text>
<text x="178.6" y="313.3" style="font-family:'Liberation Serif',serif;font-weight:bold;font-size:15.5px" fill="#111">25%</text>
<text x="185.35" y="440.7" style="font-family:'Liberation Serif',serif;font-weight:bold;font-size:15.5px" fill="#111">2%</text>
<text x="96.2" y="409.2" style="font-family:'Liberation Mono',monospace;font-weight:bold;font-size:11.5px;stroke:#111;stroke-width:0.4px" fill="#111">S</text>
<rect x="73.8" y="425" width="10" height="10" fill="#fff"/>
<text x="75.5" y="433.5" style="font-family:'Liberation Mono',monospace;font-weight:bold;font-size:11.5px;stroke:#111;stroke-width:0.4px" fill="#111">3</text>
<text x="6.5" y="267.1" transform="rotate(0.24 6.5 267.1)" style="font-family:'Liberation Sans',sans-serif;font-weight:bold;stroke:#111;stroke-width:0.25px;font-size:16px" fill="#111">C. Monocytes (CD14<tspan dy="-3" style="font-size:14px">+</tspan><tspan dy="3">)</tspan></text>
<g transform="translate(363.35 374.2) rotate(0.63) translate(-84.7 -84.42)">

<path d="M58.6 0V168.85M0 115.9H169.4" stroke="#111" stroke-width="1.6" fill="none"/>
<rect x="0" y="0" width="169.4" height="168.85" fill="none" stroke="#111" stroke-width="1.5"/>
<path d="M0 168.85v5.6M0 168.85h-5.6M12.75 168.85v5.6M0 156.14h-5.6M20.21 168.85v5.6M0 148.71h-5.6M25.5 168.85v5.6M0 143.44h-5.6M29.6 168.85v5.6M0 139.34h-5.6M32.95 168.85v5.6M0 136h-5.6M35.79 168.85v5.6M0 133.18h-5.6M38.25 168.85v5.6M0 130.73h-5.6M40.41 168.85v5.6M0 128.57h-5.6M42.35 168.85v5.6M0 126.64h-5.6M55.1 168.85v5.6M0 113.93h-5.6M62.56 168.85v5.6M0 106.5h-5.6M67.85 168.85v5.6M0 101.22h-5.6M71.95 168.85v5.6M0 97.13h-5.6M75.3 168.85v5.6M0 93.79h-5.6M78.14 168.85v5.6M0 90.96h-5.6M80.6 168.85v5.6M0 88.52h-5.6M82.76 168.85v5.6M0 86.36h-5.6M84.7 168.85v5.6M0 84.42h-5.6M97.45 168.85v5.6M0 71.72h-5.6M104.91 168.85v5.6M0 64.28h-5.6M110.2 168.85v5.6M0 59.01h-5.6M114.3 168.85v5.6M0 54.92h-5.6M117.65 168.85v5.6M0 51.58h-5.6M120.49 168.85v5.6M0 48.75h-5.6M122.95 168.85v5.6M0 46.3h-5.6M125.11 168.85v5.6M0 44.14h-5.6M127.05 168.85v5.6M0 42.21h-5.6M139.8 168.85v5.6M0 29.51h-5.6M147.26 168.85v5.6M0 22.07h-5.6M152.55 168.85v5.6M0 16.8h-5.6M156.65 168.85v5.6M0 12.71h-5.6M160 168.85v5.6M0 9.36h-5.6M162.84 168.85v5.6M0 6.54h-5.6M165.3 168.85v5.6M0 4.09h-5.6M167.46 168.85v5.6M0 1.93h-5.6M169.4 168.85v5.6M0 0h-5.6" stroke="#111" stroke-width="1.3" fill="none"/>
<text x="-4.5" y="188.85" style="font-family:'Liberation Mono',monospace;font-weight:bold;font-size:12px;letter-spacing:1.5px;stroke:#111;stroke-width:0.45px" fill="#111">.1</text>
<text x="170.8" y="188.85" style="font-family:'Liberation Mono',monospace;font-weight:bold;font-size:12px;letter-spacing:1.5px;stroke:#111;stroke-width:0.45px" fill="#111" text-anchor="end">1000</text>
<text x="83.4" y="199.35" style="font-family:'Liberation Mono',monospace;font-weight:bold;font-size:12px;letter-spacing:1.5px;stroke:#111;stroke-width:0.45px" fill="#111" text-anchor="middle">GFP</text>
<g transform="rotate(-90)">
<text x="-174.35" y="-9" style="font-family:'Liberation Mono',monospace;font-weight:bold;font-size:12px;letter-spacing:1.5px;stroke:#111;stroke-width:0.45px" fill="#111">.1</text>
<text x="-1" y="-9" style="font-family:'Liberation Mono',monospace;font-weight:bold;font-size:12px;letter-spacing:1.5px;stroke:#111;stroke-width:0.45px" fill="#111" text-anchor="end">1000</text>
<text x="-84.42" y="-19.5" style="font-family:'Liberation Mono',monospace;font-weight:bold;font-size:12px;letter-spacing:1.5px;stroke:#111;stroke-width:0.45px" fill="#111" text-anchor="middle">CD15-PE</text>
</g>
</g>
<text x="302.85" y="310.3" style="font-family:'Liberation Serif',serif;font-weight:bold;font-size:15.5px" fill="#111">62%</text>
<text x="413.6" y="310.75" style="font-family:'Liberation Serif',serif;font-weight:bold;font-size:15.5px" fill="#111">10%</text>
<text x="417.9" y="426.8" style="font-family:'Liberation Serif',serif;font-weight:bold;font-size:15.5px" fill="#111">4%</text>
<text x="348" y="397.7" style="font-family:'Liberation Mono',monospace;font-weight:bold;font-size:11.5px;stroke:#111;stroke-width:0.4px" fill="#111">S</text>
<text x="327.3" y="421.2" style="font-family:'Liberation Mono',monospace;font-weight:bold;font-size:11.5px;stroke:#111;stroke-width:0.4px" fill="#111">3</text>
<text x="236" y="269.8" transform="rotate(-0.71 236 269.8)" style="font-family:'Liberation Sans',sans-serif;font-weight:bold;stroke:#111;stroke-width:0.25px;font-size:16px" fill="#111">D. Granulocytes (CD15<tspan dy="-3" style="font-size:14px">+</tspan><tspan dy="3">)</tspan></text>
<g transform="translate(122.85 633.98) rotate(0.37) translate(-84.4 -84)">

<path d="M50.4 0V168M0 109.65H168.8" stroke="#111" stroke-width="1.6" fill="none"/>
<rect x="0" y="0" width="168.8" height="168" fill="none" stroke="#111" stroke-width="1.5"/>
<path d="M0 168v5.6M0 168h-5.6M12.7 168v5.6M0 155.36h-5.6M20.13 168v5.6M0 147.96h-5.6M25.41 168v5.6M0 142.71h-5.6M29.5 168v5.6M0 138.64h-5.6M32.84 168v5.6M0 135.32h-5.6M35.66 168v5.6M0 132.51h-5.6M38.11 168v5.6M0 130.07h-5.6M40.27 168v5.6M0 127.92h-5.6M42.2 168v5.6M0 126h-5.6M54.9 168v5.6M0 113.36h-5.6M62.33 168v5.6M0 105.96h-5.6M67.61 168v5.6M0 100.71h-5.6M71.7 168v5.6M0 96.64h-5.6M75.04 168v5.6M0 93.32h-5.6M77.86 168v5.6M0 90.51h-5.6M80.31 168v5.6M0 88.07h-5.6M82.47 168v5.6M0 85.92h-5.6M84.4 168v5.6M0 84h-5.6M97.1 168v5.6M0 71.36h-5.6M104.53 168v5.6M0 63.96h-5.6M109.81 168v5.6M0 58.71h-5.6M113.9 168v5.6M0 54.64h-5.6M117.24 168v5.6M0 51.32h-5.6M120.06 168v5.6M0 48.51h-5.6M122.51 168v5.6M0 46.07h-5.6M124.67 168v5.6M0 43.92h-5.6M126.6 168v5.6M0 42h-5.6M139.3 168v5.6M0 29.36h-5.6M146.73 168v5.6M0 21.96h-5.6M152.01 168v5.6M0 16.71h-5.6M156.1 168v5.6M0 12.64h-5.6M159.44 168v5.6M0 9.32h-5.6M162.26 168v5.6M0 6.51h-5.6M164.71 168v5.6M0 4.07h-5.6M166.87 168v5.6M0 1.92h-5.6M168.8 168v5.6M0 0h-5.6" stroke="#111" stroke-width="1.3" fill="none"/>
<text x="-4.5" y="188" style="font-family:'Liberation Mono',monospace;font-weight:bold;font-size:12px;letter-spacing:1.5px;stroke:#111;stroke-width:0.45px" fill="#111">.1</text>
<text x="170.2" y="188" style="font-family:'Liberation Mono',monospace;font-weight:bold;font-size:12px;letter-spacing:1.5px;stroke:#111;stroke-width:0.45px" fill="#111" text-anchor="end">1000</text>
<text x="83.1" y="198.5" style="font-family:'Liberation Mono',monospace;font-weight:bold;font-size:12px;letter-spacing:1.5px;stroke:#111;stroke-width:0.45px" fill="#111" text-anchor="middle">GFP</text>
<g transform="rotate(-90)">
<text x="-173.5" y="-9" style="font-family:'Liberation Mono',monospace;font-weight:bold;font-size:12px;letter-spacing:1.5px;stroke:#111;stroke-width:0.45px" fill="#111">.1</text>
<text x="-1" y="-9" style="font-family:'Liberation Mono',monospace;font-weight:bold;font-size:12px;letter-spacing:1.5px;stroke:#111;stroke-width:0.45px" fill="#111" text-anchor="end">1000</text>
<text x="-84" y="-19.5" style="font-family:'Liberation Mono',monospace;font-weight:bold;font-size:12px;letter-spacing:1.5px;stroke:#111;stroke-width:0.45px" fill="#111" text-anchor="middle">CD1a-PE</text>
</g>
</g>
<text x="62.65" y="579.4" style="font-family:'Liberation Serif',serif;font-weight:bold;font-size:15.5px" fill="#111">2%</text>
<text x="180.35" y="580.9" style="font-family:'Liberation Serif',serif;font-weight:bold;font-size:15.5px" fill="#111">9%</text>
<text x="180.35" y="689.2" style="font-family:'Liberation Serif',serif;font-weight:bold;font-size:15.5px" fill="#111">6%</text>
<text x="100.4" y="650.4" style="font-family:'Liberation Mono',monospace;font-weight:bold;font-size:11.5px;stroke:#111;stroke-width:0.4px" fill="#111">S</text>
<rect x="78" y="668" width="8.5" height="10.8" fill="#fff"/>
<text x="79" y="677.5" style="font-family:'Liberation Mono',monospace;font-weight:bold;font-size:11.5px;stroke:#111;stroke-width:0.4px" fill="#111">3</text>
<text x="0.8" y="529" transform="rotate(-1.25 0.8 529)" style="font-family:'Liberation Sans',sans-serif;font-weight:bold;stroke:#111;stroke-width:0.25px;font-size:16px" fill="#111" textLength="194" lengthAdjust="spacingAndGlyphs">E. Dendritic Cells (CD1a<tspan dy="-3" style="font-size:14px">+</tspan><tspan dy="3">)</tspan></text>
<g transform="translate(363.4 629.5) rotate(-0.32) translate(-84.75 -84.22)">

<path d="M43.5 0V168.45M0 125H169.5" stroke="#111" stroke-width="1.6" fill="none"/>
<rect x="0" y="0" width="169.5" height="168.45" fill="none" stroke="#111" stroke-width="1.5"/>
<path d="M0 168.45v5.6M0 168.45h-5.6M12.76 168.45v5.6M0 155.77h-5.6M20.22 168.45v5.6M0 148.36h-5.6M25.51 168.45v5.6M0 143.1h-5.6M29.62 168.45v5.6M0 139.01h-5.6M32.97 168.45v5.6M0 135.68h-5.6M35.81 168.45v5.6M0 132.86h-5.6M38.27 168.45v5.6M0 130.42h-5.6M40.44 168.45v5.6M0 128.26h-5.6M42.38 168.45v5.6M0 126.34h-5.6M55.13 168.45v5.6M0 113.66h-5.6M62.59 168.45v5.6M0 106.24h-5.6M67.89 168.45v5.6M0 100.98h-5.6M71.99 168.45v5.6M0 96.9h-5.6M75.35 168.45v5.6M0 93.57h-5.6M78.19 168.45v5.6M0 90.75h-5.6M80.64 168.45v5.6M0 88.31h-5.6M82.81 168.45v5.6M0 86.15h-5.6M84.75 168.45v5.6M0 84.22h-5.6M97.51 168.45v5.6M0 71.55h-5.6M104.97 168.45v5.6M0 64.13h-5.6M110.26 168.45v5.6M0 58.87h-5.6M114.37 168.45v5.6M0 54.79h-5.6M117.72 168.45v5.6M0 51.46h-5.6M120.56 168.45v5.6M0 48.64h-5.6M123.02 168.45v5.6M0 46.19h-5.6M125.19 168.45v5.6M0 44.04h-5.6M127.12 168.45v5.6M0 42.11h-5.6M139.88 168.45v5.6M0 29.44h-5.6M147.34 168.45v5.6M0 22.02h-5.6M152.64 168.45v5.6M0 16.76h-5.6M156.74 168.45v5.6M0 12.68h-5.6M160.1 168.45v5.6M0 9.34h-5.6M162.94 168.45v5.6M0 6.52h-5.6M165.39 168.45v5.6M0 4.08h-5.6M167.56 168.45v5.6M0 1.93h-5.6M169.5 168.45v5.6M0 0h-5.6" stroke="#111" stroke-width="1.3" fill="none"/>
<text x="-4.5" y="188.45" style="font-family:'Liberation Mono',monospace;font-weight:bold;font-size:12px;letter-spacing:1.5px;stroke:#111;stroke-width:0.45px" fill="#111">.1</text>
<text x="170.9" y="188.45" style="font-family:'Liberation Mono',monospace;font-weight:bold;font-size:12px;letter-spacing:1.5px;stroke:#111;stroke-width:0.45px" fill="#111" text-anchor="end">1000</text>
<text x="83.45" y="198.95" style="font-family:'Liberation Mono',monospace;font-weight:bold;font-size:12px;letter-spacing:1.5px;stroke:#111;stroke-width:0.45px" fill="#111" text-anchor="middle">GFP</text>
<g transform="rotate(-90)">
<text x="-173.95" y="-9" style="font-family:'Liberation Mono',monospace;font-weight:bold;font-size:12px;letter-spacing:1.5px;stroke:#111;stroke-width:0.45px" fill="#111">.1</text>
<text x="-1" y="-9" style="font-family:'Liberation Mono',monospace;font-weight:bold;font-size:12px;letter-spacing:1.5px;stroke:#111;stroke-width:0.45px" fill="#111" text-anchor="end">1000</text>
<text x="-84.22" y="-19.5" style="font-family:'Liberation Mono',monospace;font-weight:bold;font-size:12px;letter-spacing:1.5px;stroke:#111;stroke-width:0.45px" fill="#111" text-anchor="middle">GlycophorinA-RD</text>
</g>
</g>
<text x="285.7" y="570.9" style="font-family:'Liberation Serif',serif;font-weight:bold;font-size:15.5px" fill="#111">27%</text>
<text x="414.6" y="568.75" style="font-family:'Liberation Serif',serif;font-weight:bold;font-size:15.5px" fill="#111">19%</text>
<text x="418.9" y="693.75" style="font-family:'Liberation Serif',serif;font-weight:bold;font-size:15.5px" fill="#111">5%</text>
<rect x="330.8" y="655.3" width="11.5" height="12" fill="#fff"/>
<text x="332.5" y="664.4" style="font-family:'Liberation Mono',monospace;font-weight:bold;font-size:11.5px;stroke:#111;stroke-width:0.4px" fill="#111">S</text>
<rect x="309.6" y="681.7" width="9.6" height="10.6" fill="#fff"/>
<text x="311" y="690.9" style="font-family:'Liberation Mono',monospace;font-weight:bold;font-size:11.5px;stroke:#111;stroke-width:0.4px" fill="#111">3</text>
<text x="246.5" y="522.3" transform="rotate(-0.7 246.5 522.3)" style="font-family:'Liberation Sans',sans-serif;font-weight:bold;stroke:#111;stroke-width:0.25px;font-size:16px" fill="#111" textLength="273.7" lengthAdjust="spacingAndGlyphs">F. Red Blood Cells (glycophorin A<tspan dy="-3" style="font-size:14px">+</tspan><tspan dy="3">)</tspan></text>
</svg></body></html>
